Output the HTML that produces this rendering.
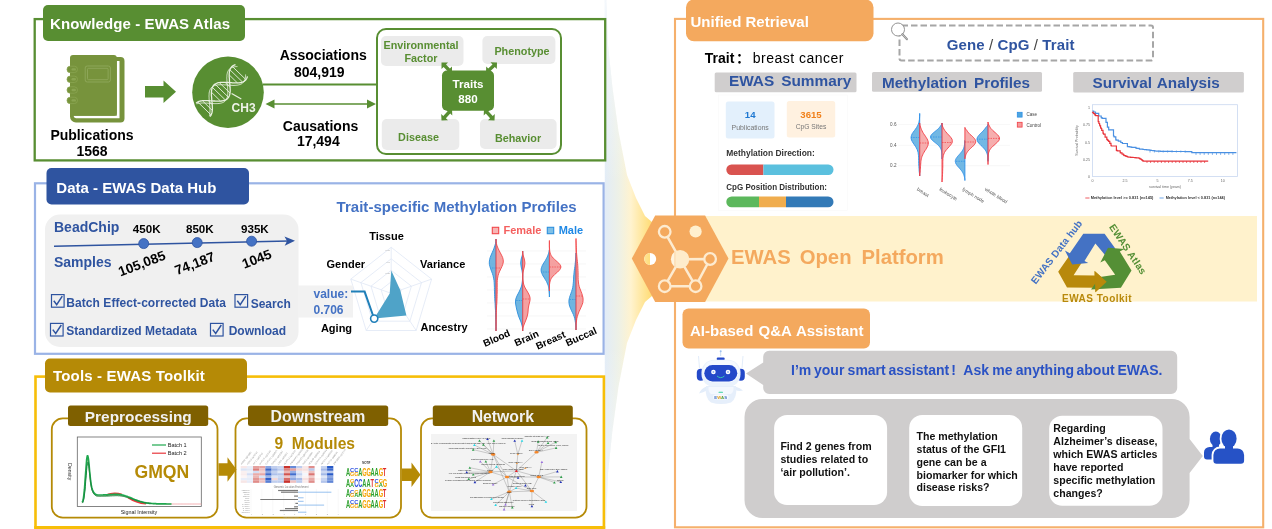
<!DOCTYPE html>
<html><head><meta charset="utf-8"><title>EWAS Open Platform</title>
<style>
html,body{margin:0;padding:0;background:#fff;}
body{width:1272px;height:529px;overflow:hidden;}
svg{display:block;will-change:transform;font-family:"Liberation Sans","Noto Sans CJK SC",sans-serif;}
.b{font-weight:bold;}
</style></head><body>
<svg width="1272" height="529" viewBox="0 0 1272 529">
<defs>
<linearGradient id="fun" x1="605" x2="652" y1="0" y2="0" gradientUnits="userSpaceOnUse">
<stop offset="0" stop-color="#e2ecf7"/><stop offset="0.3" stop-color="#eef1e6"/><stop offset="0.55" stop-color="#fff3cf"/><stop offset="1" stop-color="#ffdc73"/>
</linearGradient>
<linearGradient id="fade" x1="0" x2="0" y1="0" y2="529" gradientUnits="userSpaceOnUse">
<stop offset="0" stop-color="#fff" stop-opacity="0.6"/><stop offset="0.35" stop-color="#fff" stop-opacity="0"/><stop offset="0.65" stop-color="#fff" stop-opacity="0"/><stop offset="1" stop-color="#fff" stop-opacity="0.6"/>
</linearGradient>
</defs>

<path d="M604.8,-11 L605.8,-11 L608,45 L612.5,88 L618.5,131.39999999999998 L627,175 L636,198 L645,216 L652,222 L652,296 L645,302 L636,320 L627,343 L618.5,386.6 L612.5,430 L608,473 L605.8,529 L604.8,529 Z" fill="url(#fun)"/>
<path d="M604.8,-11 L605.8,-11 L608,45 L612.5,88 L618.5,131.39999999999998 L627,175 L636,198 L645,216 L652,222 L652,296 L645,302 L636,320 L627,343 L618.5,386.6 L612.5,430 L608,473 L605.8,529 L604.8,529 Z" fill="url(#fade)"/>
<rect x="34.7" y="19.1" width="570.5" height="141.3" fill="#fff" stroke="#588e32" stroke-width="2.3"/>
<rect x="35" y="183.3" width="568.6" height="170.5" fill="#fff" stroke="#9ab3e6" stroke-width="2.2"/>
<rect x="35.5" y="376.6" width="568.4" height="150.8" fill="#fff" stroke="#f7be08" stroke-width="2.6"/><rect x="34.2" y="526" width="571" height="3" fill="#f7be08"/>
<rect x="675" y="18.9" width="588.2" height="508.4" fill="#fff" stroke="#f5b06c" stroke-width="2.1"/>
<rect x="660" y="216" width="597" height="85.5" fill="#fff2cc"/>
<rect x="43" y="5" width="202" height="36" rx="5" fill="#588e32"/>
<text x="50" y="29" class="b" font-size="15" fill="#fff" textLength="180" lengthAdjust="spacing">Knowledge - EWAS Atlas</text>
<rect x="46.500" y="168" width="202.5" height="36.500" rx="5" fill="#2f54a0"/>
<text x="56.3" y="192.800" class="b" font-size="15" fill="#fff">Data - EWAS Data Hub</text>
<rect x="45" y="358.500" width="202" height="34" rx="5" fill="#b58a06"/>
<text x="53" y="381" class="b" font-size="15" fill="#fff" textLength="151.800" lengthAdjust="spacing">Tools - EWAS Toolkit</text>
<rect x="686" y="-0.500" width="187.500" height="41.800" rx="8" fill="#f4a95e"/>
<text x="690.500" y="26.500" class="b" font-size="15" fill="#fff">Unified Retrieval</text>
<rect x="682.500" y="308.500" width="187.500" height="40" rx="6" fill="#f4a95e"/>
<text x="690" y="335.500" class="b" font-size="15" fill="#fff" word-spacing="1">AI-based Q&amp;A Assistant</text>
<path d="M114,57 H120.500 a4,4 0 0 1 4,4 V118.500 a4,4 0 0 1 -4,4 H76 a6,6 0 0 1 -6,-6 V112 H114 Z" fill="#77933c"/>
<path d="M116.800,61 H119.500 V118.200 H76 a3,3 0 0 1 -2.500,-2.500 H116.800 Z" fill="#fff"/>
<rect x="70" y="55" width="46.800" height="60.700" rx="3" fill="#77933c"/>
<rect x="85.200" y="66" width="25.200" height="16" rx="2" fill="none" stroke="#93ab5f" stroke-width="0.8"/>
<rect x="87.500" y="68.300" width="20.600" height="11.400" rx="1" fill="none" stroke="#93ab5f" stroke-width="0.8"/>
<rect x="67" y="66.2" width="10.500" height="6.400" rx="3.200" fill="#77933c" stroke="#8aa551" stroke-width="0.8"/>
<rect x="71.500" y="68.2" width="4.500" height="2.400" rx="1.200" fill="#8aa551"/>
<rect x="67" y="76.1" width="10.500" height="6.400" rx="3.200" fill="#77933c" stroke="#8aa551" stroke-width="0.8"/>
<rect x="71.500" y="78.1" width="4.500" height="2.400" rx="1.200" fill="#8aa551"/>
<rect x="67" y="86.8" width="10.500" height="6.400" rx="3.200" fill="#77933c" stroke="#8aa551" stroke-width="0.8"/>
<rect x="71.500" y="88.8" width="4.500" height="2.400" rx="1.200" fill="#8aa551"/>
<rect x="67" y="97.2" width="10.500" height="6.400" rx="3.200" fill="#77933c" stroke="#8aa551" stroke-width="0.8"/>
<rect x="71.500" y="99.2" width="4.500" height="2.400" rx="1.200" fill="#8aa551"/>
<text x="92" y="139.700" class="b" font-size="14" text-anchor="middle">Publications</text>
<text x="92" y="155.800" class="b" font-size="14" text-anchor="middle">1568</text>
<path d="M145,86 H163.500 V80.500 L176,91.700 L163.500,103 V97.500 H145 Z" fill="#588e32"/>
<circle cx="228" cy="92.300" r="35.800" fill="#588e32"/>
<path d="M209.9,116.7 L210.3,116.2 L210.7,115.6 L211.1,115.0 L211.4,114.3 L211.7,113.6 L211.9,112.9 L212.1,112.1 L212.2,111.3 L212.3,110.4 L212.4,109.5 L212.4,108.6 L212.4,107.6 L212.3,106.6 L212.3,105.6 L212.2,104.6 L212.1,103.5 L212.1,102.5 L211.9,101.4 L211.8,100.3 L211.7,99.3 L211.7,98.2 L211.6,97.2 L211.5,96.1 L211.4,95.1 L211.4,94.1 L211.4,93.2 L211.4,92.2 L211.5,91.3 L211.6,90.5 L211.7,89.6 L211.9,88.8 L212.1,88.1 L212.4,87.4 L212.7,86.7 L213.1,86.1 L213.5,85.5 L213.9,85.0 L214.4,84.6 L215.0,84.1 L215.6,83.8 L216.3,83.4 L217.0,83.2 L217.7,82.9 L218.5,82.7 L219.3,82.6 L220.2,82.5 L221.1,82.4 L222.0,82.3 L223.0,82.3 L224.0,82.3 L225.0,82.3 L226.0,82.4 L227.1,82.4 L228.1,82.5 L229.2,82.6 L230.3,82.6 L231.3,82.7 L232.4,82.8 L233.4,82.8 L234.5,82.9 L235.5,82.9 L236.5,82.9 L237.4,82.9 L238.4,82.8 L239.3,82.8 L240.1,82.6 L240.9,82.5 L241.7,82.3 L242.5,82.0 L243.2,81.8 L243.8,81.4 L244.4,81.1 L245.0,80.6 L245.5,80.2 L245.9,79.6 L246.3,79.1 L246.7,78.5 L247.0,77.8 L247.3,77.1 L247.5,76.3" fill="none" stroke="#e9f0e0" stroke-width="1.300"/>
<path d="M196.1,103.3 L196.6,102.8 L197.2,102.4 L197.8,102.0 L198.4,101.7 L199.1,101.4 L199.9,101.2 L200.7,101.0 L201.5,100.8 L202.4,100.7 L203.3,100.6 L204.2,100.6 L205.2,100.6 L206.2,100.6 L207.2,100.6 L208.2,100.6 L209.3,100.7 L210.3,100.8 L211.4,100.8 L212.4,100.9 L213.5,101.0 L214.6,101.0 L215.6,101.1 L216.6,101.1 L217.7,101.2 L218.6,101.2 L219.6,101.2 L220.5,101.1 L221.4,101.0 L222.3,100.9 L223.1,100.7 L223.9,100.5 L224.7,100.3 L225.4,100.0 L226.0,99.7 L226.6,99.3 L227.2,98.9 L227.7,98.4 L228.1,97.9 L228.5,97.3 L228.9,96.7 L229.2,96.1 L229.5,95.4 L229.7,94.6 L229.9,93.8 L230.0,93.0 L230.1,92.1 L230.2,91.2 L230.2,90.3 L230.2,89.3 L230.1,88.3 L230.1,87.3 L230.0,86.3 L229.9,85.2 L229.8,84.2 L229.7,83.1 L229.6,82.1 L229.5,81.0 L229.4,79.9 L229.4,78.9 L229.3,77.9 L229.2,76.9 L229.2,75.9 L229.2,74.9 L229.2,74.0 L229.3,73.1 L229.4,72.2 L229.5,71.4 L229.7,70.6 L229.9,69.8 L230.2,69.1 L230.5,68.5 L230.9,67.8 L231.3,67.3 L231.7,66.8 L232.2,66.3 L232.8,65.9 L233.4,65.5 L234.1,65.2 L234.8,64.9 L235.5,64.7" fill="none" stroke="#e9f0e0" stroke-width="1.300"/>
<path d="M209.3,116.1 L209.5,115.4 L209.7,114.6 L209.8,113.8 L209.9,112.9 L210.0,112.0 L210.0,111.0 L210.0,110.1 L210.0,109.1 L209.9,108.1 L209.9,107.1 L209.8,106.0 L209.7,105.0 L209.6,103.9 L209.5,102.8 L209.4,101.8 L209.3,100.7 L209.2,99.7 L209.1,98.6 L209.1,97.6 L209.0,96.6 L209.0,95.7 L209.1,94.7 L209.1,93.8 L209.2,93.0 L209.3,92.1 L209.5,91.3 L209.7,90.6 L210.0,89.9 L210.3,89.2 L210.7,88.6 L211.1,88.0 L211.5,87.5 L212.0,87.0 L212.6,86.6 L213.2,86.2 L213.8,85.9 L214.5,85.6 L215.3,85.4 L216.1,85.2 L216.9,85.0 L217.8,84.9 L218.7,84.8 L219.6,84.8 L220.6,84.7 L221.5,84.7 L222.6,84.8 L223.6,84.8 L224.6,84.9 L225.7,84.9 L226.8,85.0 L227.8,85.1 L228.9,85.2 L229.9,85.2 L231.0,85.3 L232.0,85.3 L233.0,85.4 L234.0,85.4 L235.0,85.3 L235.9,85.3 L236.8,85.2 L237.7,85.1 L238.5,84.9 L239.3,84.7 L240.1,84.5 L240.8,84.2 L241.4,83.9 L242.0,83.5 L242.6,83.1 L243.1,82.6 L243.5,82.1 L243.9,81.6 L244.3,80.9 L244.6,80.3 L244.9,79.6 L245.1,78.8 L245.3,78.0 L245.4,77.2 L245.5,76.3 L245.6,75.4 L245.6,74.5" fill="none" stroke="#e9f0e0" stroke-width="0.900"/>
<path d="M196.7,103.9 L197.5,103.6 L198.2,103.4 L199.1,103.3 L199.9,103.2 L200.8,103.1 L201.8,103.0 L202.7,103.0 L203.7,103.0 L204.7,103.0 L205.8,103.1 L206.8,103.1 L207.9,103.2 L208.9,103.3 L210.0,103.3 L211.1,103.4 L212.1,103.5 L213.2,103.5 L214.2,103.6 L215.2,103.6 L216.2,103.6 L217.2,103.6 L218.1,103.5 L219.0,103.5 L219.9,103.3 L220.7,103.2 L221.5,103.0 L222.2,102.8 L222.9,102.5 L223.6,102.2 L224.2,101.8 L224.8,101.4 L225.3,100.9 L225.7,100.4 L226.1,99.8 L226.5,99.2 L226.8,98.6 L227.1,97.8 L227.3,97.1 L227.5,96.3 L227.6,95.5 L227.7,94.6 L227.8,93.7 L227.8,92.8 L227.8,91.8 L227.8,90.8 L227.7,89.8 L227.7,88.8 L227.6,87.7 L227.5,86.7 L227.4,85.6 L227.3,84.6 L227.2,83.5 L227.1,82.4 L227.0,81.4 L226.9,80.4 L226.9,79.3 L226.8,78.4 L226.8,77.4 L226.9,76.5 L226.9,75.5 L227.0,74.7 L227.2,73.8 L227.3,73.1 L227.5,72.3 L227.8,71.6 L228.1,70.9 L228.5,70.3 L228.9,69.7 L229.3,69.2 L229.8,68.8 L230.4,68.3 L231.0,68.0 L231.6,67.6 L232.3,67.4 L233.1,67.1 L233.9,66.9 L234.7,66.8 L235.6,66.6 L236.5,66.6 L237.4,66.5" fill="none" stroke="#e9f0e0" stroke-width="0.900"/>
<path d="M211.1,115.0 L197.8,102.0 M212.3,110.4 L202.4,100.7 M212.2,104.6 L208.2,100.6 M211.4,92.2 L220.5,101.1 M212.4,87.4 L225.4,100.0 M215.0,84.1 L228.5,97.3 M219.3,82.6 L230.0,93.0 M225.0,82.3 L230.1,87.3 M237.4,82.9 L229.2,74.9 M242.5,82.0 L229.9,69.8 M245.9,79.6 L232.2,66.3" stroke="#e9f0e0" stroke-width="0.900" fill="none"/>
<path d="M231.600,93.400 L241.300,99" stroke="#e9f0e0" stroke-width="1.200"/>
<text x="231.600" y="111.600" class="b" font-size="12" fill="#eef3e8">CH3</text>
<text x="323.200" y="60.200" class="b" font-size="14" text-anchor="middle">Associations</text>
<text x="319.300" y="77" class="b" font-size="14" text-anchor="middle">804,919</text>
<text x="320.500" y="130.600" class="b" font-size="14" text-anchor="middle">Causations</text>
<text x="318.300" y="146.200" class="b" font-size="14" text-anchor="middle">17,494</text>
<path d="M263,84.500 H376" stroke="#588e32" stroke-width="2"/>
<path d="M271,104 H369" stroke="#588e32" stroke-width="1.600"/>
<path d="M265.500,104 L274.500,99.500 V108.500 Z M376,104 L367,99.500 V108.500 Z" fill="#588e32"/>
<rect x="377" y="29" width="184" height="125" rx="9" fill="#fff" stroke="#588e32" stroke-width="2"/>
<rect x="381" y="36" width="82.500" height="30" rx="5" fill="#ebebeb"/>
<rect x="482.400" y="36" width="73" height="28" rx="5" fill="#ebebeb"/>
<rect x="381.800" y="119" width="77.500" height="31" rx="5" fill="#ebebeb"/>
<rect x="480" y="119" width="76.600" height="30" rx="5" fill="#ebebeb"/>
<path d="M441.5,62.5 L441.5,69.0 L443.6,67.0 L447.5,70.9 L445.5,73.0 L452.0,73.0 L452.0,66.5 L449.9,68.5 L446.0,64.6 L448.0,62.5 Z M497.0,62.5 L490.5,62.3 L492.5,64.4 L488.2,68.6 L486.2,66.5 L486.0,73.0 L492.5,73.2 L490.5,71.1 L494.8,66.9 L496.8,69.0 Z M441.5,120.5 L448.0,120.2 L445.9,118.2 L450.2,113.5 L452.3,115.5 L452.0,109.0 L445.5,109.3 L447.6,111.3 L443.3,116.0 L441.2,114.0 Z M494.5,120.5 L494.8,114.0 L492.7,116.0 L488.4,111.3 L490.5,109.3 L484.0,109.0 L483.7,115.5 L485.8,113.5 L490.1,118.2 L488.0,120.2 Z" fill="#588e32"/>
<rect x="442" y="70.500" width="52" height="40.200" rx="5" fill="#588e32"/>
<text x="468" y="88" class="b" font-size="11.600" fill="#fff" text-anchor="middle">Traits</text>
<text x="468" y="102.500" class="b" font-size="11.600" fill="#fff" text-anchor="middle">880</text>
<text x="421" y="48.900" class="b" font-size="10.800" fill="#588e32" text-anchor="middle">Environmental</text>
<text x="421" y="61.800" class="b" font-size="10.800" fill="#588e32" text-anchor="middle">Factor</text>
<text x="522" y="54.900" class="b" font-size="10.800" fill="#588e32" text-anchor="middle">Phenotype</text>
<text x="418.500" y="141" class="b" font-size="10.800" fill="#588e32" text-anchor="middle">Disease</text>
<text x="518" y="141.800" class="b" font-size="10.800" fill="#588e32" text-anchor="middle">Behavior</text>
<rect x="45" y="214.500" width="253.500" height="132.500" rx="15" fill="#f0f0f0"/>
<text x="54" y="231.700" class="b" font-size="14" fill="#2f54a0">BeadChip</text>
<text x="54" y="267" class="b" font-size="14" fill="#2f54a0">Samples</text>
<path d="M54,246.200 L289,241" stroke="#2f54a0" stroke-width="1.400"/>
<path d="M295,240.800 L284.500,236.500 L287,241 L284.700,245.700 Z" fill="#2f54a0"/>
<circle cx="143.7" cy="243.6" r="5" fill="#4472c4" stroke="#2f54a0" stroke-width="0.800"/>
<circle cx="197.2" cy="242.6" r="5" fill="#4472c4" stroke="#2f54a0" stroke-width="0.800"/>
<circle cx="251.6" cy="241.2" r="5" fill="#4472c4" stroke="#2f54a0" stroke-width="0.800"/>
<text x="146.7" y="232.600" class="b" font-size="11.600" text-anchor="middle">450K</text>
<text x="199.8" y="232.600" class="b" font-size="11.600" text-anchor="middle">850K</text>
<text x="254.9" y="232.600" class="b" font-size="11.600" text-anchor="middle">935K</text>
<text transform="translate(141.9,263.5) rotate(-21)" x="0" y="4.600" class="b" font-size="13.600" text-anchor="middle">105,085</text>
<text transform="translate(194.8,263.5) rotate(-21)" x="0" y="4.600" class="b" font-size="13.600" text-anchor="middle">74,187</text>
<text transform="translate(256.8,259) rotate(-21)" x="0" y="4.600" class="b" font-size="13.600" text-anchor="middle">1045</text>
<rect x="51.5" y="294.6" width="12.6" height="12.6" fill="none" stroke="#2f54a0" stroke-width="1.200"/>
<path d="M53.8,300.8 L56.7,304.6 L62.3,296.20000000000005" fill="none" stroke="#2f54a0" stroke-width="1.500"/>
<rect x="235" y="294.6" width="12.6" height="12.6" fill="none" stroke="#2f54a0" stroke-width="1.200"/>
<path d="M237.3,300.8 L240.2,304.6 L245.8,296.20000000000005" fill="none" stroke="#2f54a0" stroke-width="1.500"/>
<rect x="50.5" y="323.4" width="12.6" height="12.6" fill="none" stroke="#2f54a0" stroke-width="1.200"/>
<path d="M52.8,329.59999999999997 L55.7,333.4 L61.3,325.0" fill="none" stroke="#2f54a0" stroke-width="1.500"/>
<rect x="210.5" y="323.4" width="12.6" height="12.6" fill="none" stroke="#2f54a0" stroke-width="1.200"/>
<path d="M212.8,329.59999999999997 L215.7,333.4 L221.3,325.0" fill="none" stroke="#2f54a0" stroke-width="1.500"/>
<text x="66.300" y="306.700" class="b" font-size="12" fill="#2f54a0" textLength="159.700" lengthAdjust="spacing">Batch Effect-corrected Data</text>
<text x="250.700" y="308" class="b" font-size="12" fill="#2f54a0">Search</text>
<text x="66.300" y="335.200" class="b" font-size="12" fill="#2f54a0" textLength="130.700" lengthAdjust="spacing">Standardized Metadata</text>
<text x="228.700" y="335.200" class="b" font-size="12" fill="#2f54a0">Download</text>
<text x="336.600" y="212" class="b" font-size="15" fill="#4472c4" textLength="240" lengthAdjust="spacing">Trait-specific Methylation Profiles</text>
<polygon points="391.2,247.3 431.6,279.1 416.2,330.5 366.2,330.5 350.8,279.1" fill="none" stroke="#dfe7f5" stroke-width="0.800"/>
<polygon points="391.2,258.8 421.5,282.6 409.9,321.2 372.5,321.2 360.9,282.6" fill="none" stroke="#dfe7f5" stroke-width="0.800"/>
<polygon points="391.2,270.3 411.4,286.2 403.7,311.9 378.7,311.9 371.0,286.2" fill="none" stroke="#dfe7f5" stroke-width="0.800"/>
<polygon points="391.2,281.8 401.3,289.7 397.4,302.6 385.0,302.6 381.1,289.7" fill="none" stroke="#dfe7f5" stroke-width="0.800"/>
<path d="M391.2,293.3 L391.2,247.3" stroke="#dfe7f5" stroke-width="0.800"/>
<path d="M391.2,293.3 L431.6,279.1" stroke="#dfe7f5" stroke-width="0.800"/>
<path d="M391.2,293.3 L416.2,330.5" stroke="#dfe7f5" stroke-width="0.800"/>
<path d="M391.2,293.3 L366.2,330.5" stroke="#dfe7f5" stroke-width="0.800"/>
<path d="M391.2,293.3 L350.8,279.1" stroke="#dfe7f5" stroke-width="0.800"/>
<polygon points="391.300,270.400 400.300,290.300 406.400,315.400 374.200,318.600 389.700,293.500" fill="#4fa3c8"/>
<rect x="298" y="285.500" width="55" height="32" fill="#f2f2f2"/>
<path d="M351,291.600 H364.600 L373.200,316" fill="none" stroke="#1f7fb8" stroke-width="2"/>
<circle cx="374.200" cy="318.600" r="3.600" fill="#fff" stroke="#1f7fb8" stroke-width="1.600"/>
<text x="313.500" y="298.400" class="b" font-size="12" fill="#4472c4">value:</text>
<text x="313.500" y="314.400" class="b" font-size="12" fill="#4472c4">0.706</text>
<text x="386.5" y="239.8" class="b" font-size="11" text-anchor="middle">Tissue</text>
<text x="345.8" y="267.8" class="b" font-size="11" text-anchor="middle">Gender</text>
<text x="442.7" y="267.8" class="b" font-size="11" text-anchor="middle">Variance</text>
<text x="336.5" y="331.5" class="b" font-size="11" text-anchor="middle">Aging</text>
<text x="444" y="330.5" class="b" font-size="11" text-anchor="middle">Ancestry</text>
<text x="390" y="251" font-size="2.500" fill="#aaa" text-anchor="end">0.75</text>
<text x="390" y="262.5" font-size="2.500" fill="#aaa" text-anchor="end">0.5</text>
<text x="390" y="274" font-size="2.500" fill="#aaa" text-anchor="end">0.25</text>
<path d="M487,251 H586" stroke="#f0f0f0" stroke-width="0.600"/>
<path d="M487,264 H586" stroke="#f0f0f0" stroke-width="0.600"/>
<path d="M487,277 H586" stroke="#f0f0f0" stroke-width="0.600"/>
<path d="M487,290 H586" stroke="#f0f0f0" stroke-width="0.600"/>
<path d="M487,303 H586" stroke="#f0f0f0" stroke-width="0.600"/>
<path d="M487,316 H586" stroke="#f0f0f0" stroke-width="0.600"/>
<path d="M487,329 H586" stroke="#f0f0f0" stroke-width="0.600"/>
<path d="M496.0,239.0 L496.0,239.0 L495.9,241.3 L495.5,243.6 L494.8,245.9 L494.0,248.2 L493.1,250.5 L492.1,252.8 L491.1,255.1 L490.2,257.4 L489.6,259.7 L489.3,262.0 L489.4,264.3 L489.9,266.6 L490.7,268.9 L491.5,271.2 L492.4,273.5 L493.1,275.8 L493.6,278.1 L494.0,280.4 L494.2,282.7 L494.3,285.0 L494.4,287.3 L494.4,289.6 L494.5,291.9 L494.6,294.2 L494.6,296.5 L494.8,298.8 L494.9,301.1 L495.1,303.4 L495.2,305.7 L495.3,308.0 L495.5,310.3 L495.6,312.6 L495.7,314.9 L495.8,317.2 L495.8,319.5 L495.9,321.8 L495.9,324.1 L496.0,326.4 L496.0,328.7 L496.0,331.0 L496.0,331.0 Z" fill="#4ba3d8" fill-opacity="0.8" stroke="#2d8fdd" stroke-width="0.9" stroke-linejoin="round"/>
<path d="M496,268 H490.7" stroke="#2d8fdd" stroke-width="0.700" stroke-dasharray="1.500,1" fill="none"/>
<path d="M496.0,239.0 L496.0,239.0 L496.1,241.3 L496.4,243.6 L497.1,245.9 L498.0,248.2 L499.1,250.5 L500.3,252.8 L501.5,255.1 L502.6,257.4 L503.2,259.7 L503.3,262.0 L502.8,264.3 L501.9,266.6 L500.8,268.9 L499.7,271.2 L498.7,273.5 L498.0,275.8 L497.6,278.1 L497.3,280.4 L497.2,282.7 L497.2,285.0 L497.2,287.3 L497.2,289.6 L497.2,291.9 L497.1,294.2 L497.1,296.5 L497.0,298.8 L496.9,301.1 L496.8,303.4 L496.6,305.7 L496.5,308.0 L496.4,310.3 L496.3,312.6 L496.2,314.9 L496.2,317.2 L496.1,319.5 L496.1,321.8 L496.1,324.1 L496.0,326.4 L496.0,328.7 L496.0,331.0 L496.0,331.0 Z" fill="#f28a8a" fill-opacity="0.8" stroke="#f2474a" stroke-width="0.9" stroke-linejoin="round"/>
<path d="M496,268 H500.8" stroke="#f2474a" stroke-width="0.700" stroke-dasharray="1.500,1" fill="none"/>
<path d="M522.7,251.0 L522.7,251.0 L522.6,253.0 L522.4,255.0 L521.8,257.0 L521.2,259.0 L520.9,261.0 L520.7,263.0 L520.9,265.0 L521.2,267.0 L521.7,269.0 L522.1,271.0 L522.4,273.0 L522.6,275.0 L522.6,277.0 L522.5,279.0 L522.4,281.0 L522.1,283.0 L521.8,285.0 L521.2,287.0 L520.4,289.0 L519.5,291.0 L518.5,293.0 L517.4,295.0 L516.5,297.0 L515.8,299.0 L515.5,301.0 L515.5,303.0 L515.8,305.0 L516.2,307.0 L516.6,309.0 L517.1,311.0 L517.6,313.0 L518.2,315.0 L518.9,317.0 L519.7,319.0 L520.6,321.0 L521.3,323.0 L521.9,325.0 L522.4,327.0 L522.6,329.0 L522.7,331.0 L522.7,331.0 Z" fill="#4ba3d8" fill-opacity="0.8" stroke="#2d8fdd" stroke-width="0.9" stroke-linejoin="round"/>
<path d="M522.7,300.5 H515.5" stroke="#2d8fdd" stroke-width="0.700" stroke-dasharray="1.500,1" fill="none"/>
<path d="M522.7,251.0 L522.7,251.0 L522.8,253.0 L523.1,255.0 L523.7,257.0 L524.3,259.0 L524.7,261.0 L524.9,263.0 L524.7,265.0 L524.3,267.0 L523.8,269.0 L523.3,271.0 L523.0,273.0 L522.9,275.0 L522.8,277.0 L522.9,279.0 L523.1,281.0 L523.4,283.0 L523.9,285.0 L524.7,287.0 L525.8,289.0 L527.0,291.0 L528.2,293.0 L529.2,295.0 L529.9,297.0 L530.1,299.0 L529.9,301.0 L529.4,303.0 L528.9,305.0 L528.5,307.0 L528.2,309.0 L528.1,311.0 L527.9,313.0 L527.5,315.0 L527.0,317.0 L526.3,319.0 L525.5,321.0 L524.7,323.0 L523.9,325.0 L523.2,327.0 L522.8,329.0 L522.7,331.0 L522.7,331.0 Z" fill="#f28a8a" fill-opacity="0.8" stroke="#f2474a" stroke-width="0.9" stroke-linejoin="round"/>
<path d="M522.7,299 H530.1" stroke="#f2474a" stroke-width="0.700" stroke-dasharray="1.500,1" fill="none"/>
<path d="M549.4,250.0 L549.4,250.0 L549.2,251.2 L548.9,252.3 L548.5,253.5 L548.1,254.7 L547.7,255.9 L547.2,257.1 L546.6,258.2 L545.9,259.4 L545.3,260.6 L544.5,261.8 L543.8,262.9 L543.1,264.1 L542.4,265.3 L541.9,266.4 L541.5,267.6 L541.2,268.8 L541.1,270.0 L541.2,271.1 L541.4,272.3 L541.9,273.5 L542.4,274.7 L543.0,275.9 L543.8,277.0 L544.5,278.2 L545.2,279.4 L545.9,280.6 L546.6,281.7 L547.1,282.9 L547.6,284.1 L548.1,285.2 L548.4,286.4 L548.7,287.6 L548.9,288.8 L549.0,289.9 L549.1,291.1 L549.2,292.3 L549.3,293.5 L549.4,294.6 L549.4,295.8 L549.4,297.0 L549.4,297.0 Z" fill="#4ba3d8" fill-opacity="0.8" stroke="#2d8fdd" stroke-width="0.9" stroke-linejoin="round"/>
<path d="M549.4,272 H541.4" stroke="#2d8fdd" stroke-width="0.700" stroke-dasharray="1.500,1" fill="none"/>
<path d="M549.4,240.5 L549.4,240.5 L549.4,241.8 L549.4,243.0 L549.4,244.3 L549.4,245.6 L549.4,246.8 L549.5,248.1 L549.6,249.3 L549.7,250.6 L549.9,251.9 L550.2,253.1 L550.7,254.4 L551.3,255.7 L552.2,256.9 L553.3,258.2 L554.6,259.4 L556.0,260.7 L557.5,262.0 L558.8,263.2 L559.9,264.5 L560.7,265.8 L560.9,267.0 L560.6,268.3 L559.9,269.5 L558.8,270.8 L557.5,272.1 L556.0,273.3 L554.6,274.6 L553.3,275.9 L552.2,277.1 L551.3,278.4 L550.7,279.6 L550.2,280.9 L549.9,282.2 L549.7,283.4 L549.5,284.7 L549.5,285.9 L549.4,287.2 L549.4,288.5 L549.4,289.7 L549.4,291.0 L549.4,291.0 Z" fill="#f28a8a" fill-opacity="0.8" stroke="#f2474a" stroke-width="0.9" stroke-linejoin="round"/>
<path d="M549.4,267 H560.9" stroke="#f2474a" stroke-width="0.700" stroke-dasharray="1.500,1" fill="none"/>
<path d="M576.0,253.0 L576.0,253.0 L576.0,254.9 L575.9,256.9 L575.7,258.8 L575.5,260.7 L575.3,262.6 L575.1,264.6 L574.9,266.5 L574.6,268.4 L574.3,270.3 L574.1,272.2 L573.9,274.2 L573.7,276.1 L573.6,278.0 L573.5,279.9 L573.4,281.9 L573.2,283.8 L573.0,285.7 L572.7,287.6 L572.2,289.6 L571.6,291.5 L570.9,293.4 L570.2,295.4 L569.6,297.3 L569.1,299.2 L568.9,301.1 L569.0,303.1 L569.3,305.0 L569.9,306.9 L570.7,308.8 L571.6,310.8 L572.5,312.7 L573.4,314.6 L574.1,316.5 L574.7,318.4 L575.1,320.4 L575.4,322.3 L575.7,324.2 L575.9,326.1 L576.0,328.1 L576.0,330.0 L576.0,330.0 Z" fill="#4ba3d8" fill-opacity="0.8" stroke="#2d8fdd" stroke-width="0.9" stroke-linejoin="round"/>
<path d="M576,299.5 H569.1" stroke="#2d8fdd" stroke-width="0.700" stroke-dasharray="1.500,1" fill="none"/>
<path d="M576.0,238.5 L576.0,238.5 L576.0,240.8 L576.1,243.1 L576.2,245.4 L576.3,247.7 L576.4,249.9 L576.5,252.2 L576.7,254.5 L576.9,256.8 L577.1,259.1 L577.4,261.4 L577.6,263.7 L577.8,265.9 L577.9,268.2 L578.0,270.5 L578.1,272.8 L578.1,275.1 L578.1,277.4 L578.2,279.7 L578.4,282.0 L578.7,284.2 L579.2,286.5 L580.0,288.8 L580.9,291.1 L581.8,293.4 L582.5,295.7 L583.0,298.0 L583.1,300.3 L582.8,302.6 L582.1,304.8 L581.1,307.1 L580.1,309.4 L579.0,311.7 L578.1,314.0 L577.4,316.3 L576.8,318.6 L576.5,320.9 L576.2,323.1 L576.1,325.4 L576.0,327.7 L576.0,330.0 L576.0,330.0 Z" fill="#f28a8a" fill-opacity="0.8" stroke="#f2474a" stroke-width="0.9" stroke-linejoin="round"/>
<path d="M576,296 H582.5" stroke="#f2474a" stroke-width="0.700" stroke-dasharray="1.500,1" fill="none"/>
<rect x="492.300" y="227.300" width="6.400" height="6.400" fill="#f7b5b5" stroke="#f2474a" stroke-width="1.100"/>
<text x="503.500" y="234" class="b" font-size="11" fill="#f4605f">Female</text>
<rect x="547.300" y="227.300" width="6.400" height="6.400" fill="#7fc0e6" stroke="#2d8fdd" stroke-width="1.100"/>
<text x="558.700" y="234" class="b" font-size="11" fill="#1e88e5">Male</text>
<text transform="translate(496.5,338) rotate(-24)" x="0" y="3.600" class="b" font-size="10" text-anchor="middle">Blood</text>
<text transform="translate(526.5,338) rotate(-24)" x="0" y="3.600" class="b" font-size="10" text-anchor="middle">Brain</text>
<text transform="translate(550.5,340) rotate(-24)" x="0" y="3.600" class="b" font-size="10" text-anchor="middle">Breast</text>
<text transform="translate(581,336.5) rotate(-24)" x="0" y="3.600" class="b" font-size="10" text-anchor="middle">Buccal</text>
<rect x="51.8" y="418.300" width="165.7" height="99.300" rx="11" fill="#fff" stroke="#b58a06" stroke-width="1.800"/>
<rect x="68" y="405.500" width="140.2" height="20.500" rx="2.500" fill="#7f6000"/>
<text x="138.3" y="422.300" class="b" font-size="15.4" fill="#f2f2f2" text-anchor="middle">Preprocessing</text>
<rect x="235.5" y="418.300" width="165.5" height="99.300" rx="11" fill="#fff" stroke="#b58a06" stroke-width="1.800"/>
<rect x="248" y="405.500" width="140.2" height="20.500" rx="2.500" fill="#7f6000"/>
<text x="318" y="422.300" class="b" font-size="15.8" fill="#f2f2f2" text-anchor="middle">Downstream</text>
<rect x="421" y="418.300" width="165.5" height="99.300" rx="11" fill="#fff" stroke="#b58a06" stroke-width="1.800"/>
<rect x="432.8" y="405.500" width="140" height="20.500" rx="2.500" fill="#7f6000"/>
<text x="502.8" y="422.300" class="b" font-size="15.8" fill="#f2f2f2" text-anchor="middle">Network</text>
<path d="M218.5,463.3 H227.5 V457.3 L236.5,469.5 L227.5,481.7 V475.7 H218.5 Z M402,468.5 H411.5 V462.5 L420.5,474.7 L411.5,486.9 V480.9 H402 Z" fill="#b58a06"/>
<rect x="77.300" y="437" width="124" height="69.500" fill="#fff" stroke="#666" stroke-width="0.800"/>
<path d="M82.3,502.5 L83.0,500.7 L83.7,497.0 L84.5,490.7 L85.2,481.9 L86.0,472.1 L86.7,464.0 L87.5,460.3 L88.2,462.2 L89.0,468.1 L89.7,475.4 L90.4,482.0 L91.2,486.7 L91.9,489.8 L92.7,491.8 L93.4,493.2 L94.2,494.2 L94.9,494.9 L95.7,495.4 L96.4,495.6 L97.1,495.8 L97.9,495.9 L98.6,495.9 L99.4,495.9 L100.1,495.9 L100.9,495.9 L101.6,495.9 L102.3,495.9 L103.1,495.9 L103.8,495.8 L104.6,495.8 L105.3,495.8 L106.1,495.8 L106.8,495.7 L107.6,495.7 L108.3,495.7 L109.0,495.6 L109.8,495.6 L110.5,495.5 L111.3,495.5 L112.0,495.5 L112.8,495.4 L113.5,495.4 L114.3,495.4 L115.0,495.3 L115.7,495.3 L116.5,495.3 L117.2,495.3 L118.0,495.4 L118.7,495.4 L119.5,495.5 L120.2,495.6 L120.9,495.7 L121.7,495.8 L122.4,495.9 L123.2,496.1 L123.9,496.3 L124.7,496.5 L125.4,496.7 L126.2,496.9 L126.9,497.1 L127.6,497.4 L128.4,497.6 L129.1,497.9 L129.9,498.1 L130.6,498.4 L131.4,498.7 L132.1,499.0 L132.9,499.3 L133.6,499.5 L134.3,499.8 L135.1,500.1 L135.8,500.3 L136.6,500.6 L137.3,500.8 L138.1,501.1 L138.8,501.3 L139.5,501.5 L140.3,501.7 L141.0,501.9 L141.8,502.1 L142.5,502.3 L143.3,502.4 L144.0,502.6 L144.8,502.7 L145.5,502.8 L146.2,503.0 L147.0,503.1 L147.7,503.2 L148.5,503.2 L149.2,503.3 L150.0,503.4 L150.7,503.5 L151.5,503.5 L152.2,503.6 L152.9,503.6 L153.7,503.7 L154.4,503.7 L155.2,503.7 L155.9,503.8 L156.7,503.8 L157.4,503.8 L158.1,503.8 L158.9,503.8 L159.6,503.9 L160.4,503.9 L161.1,503.9 L161.9,503.9 L162.6,503.9 L163.4,503.9 L164.1,503.9 L164.8,503.9 L165.6,503.9 L166.3,504.0 L167.1,504.0 L167.8,504.0 L168.6,504.0 L169.3,504.0 L170.1,504.0 L170.8,504.0 L171.5,504.0 L172.3,504.0 L173.0,504.0 L173.8,504.0 L174.5,504.0 L175.3,504.0 L176.0,504.0 L176.7,504.0 L177.5,504.0 L178.2,504.0 L179.0,504.0 L179.7,504.0 L180.5,504.0 L181.2,504.0 L182.0,504.0 L182.7,504.0 L183.4,504.0 L184.2,504.0 L184.9,504.0 L185.7,504.0 L186.4,504.0 L187.2,504.0 L187.9,504.0 L188.7,504.0 L189.4,504.0 L190.1,504.0 L190.9,504.0 L191.6,504.0 L192.4,504.0 L193.1,504.0 L193.9,504.0 L194.6,504.0 L195.3,504.0 L196.1,504.0 L196.8,504.0 L197.6,504.0 L198.3,504.0 L199.1,504.0 L199.8,504.0 L200.6,504.0 L201.3,504.0" fill="none" stroke="#f3a9ab" stroke-width="1"/>
<path d="M106,495 Q114,492 122,494.500 M128,497.500 Q136,502.800 146,503.800" fill="none" stroke="#e8383d" stroke-width="1.600"/>
<path d="M82.3,502.4 L82.8,501.0 L83.4,498.6 L83.9,494.7 L84.5,489.2 L85.0,482.1 L85.6,473.9 L86.2,465.9 L86.7,459.5 L87.3,455.9 L87.8,455.8 L88.4,458.8 L89.0,464.1 L89.5,470.2 L90.1,476.1 L90.6,481.0 L91.2,484.8 L91.7,487.5 L92.3,489.5 L92.9,490.9 L93.4,492.0 L94.0,492.9 L94.5,493.5 L95.1,494.0 L95.7,494.4 L96.2,494.6 L96.8,494.8 L97.3,494.9 L97.9,495.0 L98.4,495.0 L99.0,495.0 L99.6,495.0 L100.1,495.0 L100.7,495.0 L101.2,495.0 L101.8,495.0 L102.3,495.0 L102.9,495.0 L103.5,494.9 L104.0,494.9 L104.6,494.9 L105.1,494.9 L105.7,494.9 L106.3,494.8 L106.8,494.8 L107.4,494.8 L107.9,494.8 L108.5,494.7 L109.0,494.7 L109.6,494.7 L110.2,494.6 L110.7,494.6 L111.3,494.6 L111.8,494.5 L112.4,494.5 L112.9,494.5 L113.5,494.4 L114.1,494.4 L114.6,494.4 L115.2,494.4 L115.7,494.4 L116.3,494.4 L116.9,494.4 L117.4,494.4 L118.0,494.4 L118.5,494.5 L119.1,494.5 L119.6,494.6 L120.2,494.6 L120.8,494.7 L121.3,494.8 L121.9,494.9 L122.4,495.0 L123.0,495.2 L123.6,495.3 L124.1,495.5 L124.7,495.6 L125.2,495.8 L125.8,496.0 L126.3,496.2 L126.9,496.4 L127.5,496.6 L128.0,496.8 L128.6,497.0 L129.1,497.2 L129.7,497.4 L130.2,497.6 L130.8,497.9 L131.4,498.1 L131.9,498.3 L132.5,498.6 L133.0,498.8 L133.6,499.0 L134.2,499.3 L134.7,499.5 L135.3,499.7 L135.8,499.9 L136.4,500.1 L136.9,500.4 L137.5,500.6 L138.1,500.8 L138.6,501.0 L139.2,501.1 L139.7,501.3 L140.3,501.5 L140.8,501.6 L141.4,501.8 L142.0,502.0 L142.5,502.1 L143.1,502.2 L143.6,502.4 L144.2,502.5 L144.8,502.6 L145.3,502.7 L145.9,502.8 L146.4,502.9 L147.0,503.0 L147.5,503.0 L148.1,503.1 L148.7,503.2 L149.2,503.3 L149.8,503.3 L150.3,503.4 L150.9,503.4 L151.5,503.5 L152.0,503.5 L152.6,503.5 L153.1,503.6 L153.7,503.6 L154.2,503.7 L154.8,503.7 L155.4,503.7 L155.9,503.7 L156.5,503.8 L157.0,503.8 L157.6,503.8 L158.1,503.8 L158.7,503.8 L159.3,503.8 L159.8,503.9 L160.4,503.9 L160.9,503.9 L161.5,503.9 L162.1,503.9 L162.6,503.9 L163.2,503.9 L163.7,503.9 L164.3,503.9 L164.8,503.9 L165.4,503.9 L166.0,503.9 L166.5,504.0 L167.1,504.0 L167.6,504.0 L168.2,504.0 L168.8,504.0 L169.3,504.0 L169.9,504.0 L170.4,504.0 L171.0,504.0 L171.5,504.0" fill="none" stroke="#1fa84f" stroke-width="1.700" stroke-linejoin="round"/>
<path d="M82.3,503.1 L82.7,502.5 L83.1,501.6 L83.6,500.1 L84.0,498.0 L84.4,495.1 L84.9,491.3 L85.3,486.6 L85.7,481.3 L86.2,475.8 L86.6,470.6 L87.0,466.3 L87.5,463.4 L87.9,462.2 L88.3,462.9 L88.8,465.1 L89.2,468.5 L89.6,472.6 L90.1,476.7 L90.5,480.5 L90.9,483.8 L91.4,486.5 L91.8,488.6 L92.2,490.3 L92.7,491.5 L93.1,492.5 L93.5,493.3 L94.0,494.0 L94.4,494.5 L94.8,495.0 L95.3,495.3 L95.7,495.6 L96.1,495.8 L96.6,496.0 L97.0,496.1 L97.4,496.1 L97.9,496.2 L98.3,496.2 L98.8,496.2 L99.2,496.2 L99.6,496.3 L100.1,496.3 L100.5,496.3 L100.9,496.3 L101.4,496.2 L101.8,496.2 L102.2,496.2 L102.7,496.2 L103.1,496.2 L103.5,496.2 L104.0,496.2 L104.4,496.2 L104.8,496.2 L105.3,496.2 L105.7,496.2 L106.1,496.1 L106.6,496.1 L107.0,496.1 L107.4,496.1 L107.9,496.1 L108.3,496.1 L108.7,496.0 L109.2,496.0 L109.6,496.0 L110.0,496.0 L110.5,495.9 L110.9,495.9 L111.3,495.9 L111.8,495.9 L112.2,495.8 L112.6,495.8 L113.1,495.8 L113.5,495.8 L113.9,495.8 L114.4,495.8 L114.8,495.7 L115.2,495.7 L115.7,495.7 L116.1,495.7 L116.5,495.7 L117.0,495.7 L117.4,495.7 L117.8,495.7 L118.3,495.8 L118.7,495.8 L119.1,495.8 L119.6,495.8 L120.0,495.9 L120.5,495.9 L120.9,496.0 L121.3,496.0 L121.8,496.1 L122.2,496.2 L122.6,496.3 L123.1,496.3 L123.5,496.4 L123.9,496.5 L124.4,496.6 L124.8,496.7 L125.2,496.8 L125.7,497.0 L126.1,497.1 L126.5,497.2 L127.0,497.3 L127.4,497.5 L127.8,497.6 L128.3,497.7 L128.7,497.9 L129.1,498.0 L129.6,498.2 L130.0,498.3 L130.4,498.5 L130.9,498.6 L131.3,498.8 L131.7,498.9 L132.2,499.1 L132.6,499.2 L133.0,499.4 L133.5,499.6 L133.9,499.7 L134.3,499.9 L134.8,500.0 L135.2,500.2 L135.6,500.3 L136.1,500.5 L136.5,500.6 L136.9,500.7 L137.4,500.9 L137.8,501.0 L138.2,501.2 L138.7,501.3 L139.1,501.4 L139.5,501.5 L140.0,501.7 L140.4,501.8 L140.8,501.9 L141.3,502.0 L141.7,502.1 L142.2,502.2 L142.6,502.3 L143.0,502.4 L143.5,502.5 L143.9,502.6 L144.3,502.6 L144.8,502.7 L145.2,502.8 L145.6,502.9 L146.1,502.9 L146.5,503.0 L146.9,503.1 L147.4,503.1 L147.8,503.2 L148.2,503.2 L148.7,503.3 L149.1,503.3 L149.5,503.3 L150.0,503.4 L150.4,503.4 L150.8,503.5 L151.3,503.5 L151.7,503.5" fill="none" stroke="#168a3f" stroke-width="1" stroke-linejoin="round"/>
<path d="M152,445 H166" stroke="#1fa84f" stroke-width="1.200"/><path d="M152,453.200 H166" stroke="#e8383d" stroke-width="1.200"/>
<text x="167.700" y="447" font-size="5.600" fill="#222">Batch 1</text><text x="167.700" y="455.200" font-size="5.600" fill="#222">Batch 2</text>
<text transform="translate(68.300,471.700) rotate(90)" font-size="5.200" fill="#333" text-anchor="middle">Density</text>
<text x="139" y="514.400" font-size="5.400" fill="#222" text-anchor="middle">Signal Intensity</text>
<text x="134.500" y="478" class="b" font-size="17.600" fill="#b58a06">GMQN</text>
<text y="448.800" class="b" font-size="15.600" fill="#b58a06" xml:space="preserve"><tspan x="274.600">9 </tspan><tspan x="291.800">Modules</tspan></text>
<rect x="240.70" y="466.00" width="6.22" height="2.45" fill="#f8e8e8"/>
<rect x="240.70" y="468.40" width="6.22" height="2.45" fill="#dbe4f6"/>
<rect x="240.70" y="470.80" width="6.22" height="2.45" fill="#faf0f0"/>
<rect x="240.70" y="473.20" width="6.22" height="2.45" fill="#f9ecec"/>
<rect x="240.70" y="475.60" width="6.22" height="2.45" fill="#fcf5f5"/>
<rect x="240.70" y="478.00" width="6.22" height="2.45" fill="#e8edf9"/>
<rect x="240.70" y="480.40" width="6.22" height="2.45" fill="#f7e6e6"/>
<rect x="246.87" y="466.00" width="6.22" height="2.45" fill="#ebeff9"/>
<rect x="246.87" y="468.40" width="6.22" height="2.45" fill="#e2e8f6"/>
<rect x="246.87" y="470.80" width="6.22" height="2.45" fill="#eff2fa"/>
<rect x="246.87" y="473.20" width="6.22" height="2.45" fill="#d4def4"/>
<rect x="246.87" y="475.60" width="6.22" height="2.45" fill="#edf0f9"/>
<rect x="246.87" y="478.00" width="6.22" height="2.45" fill="#e6ecf8"/>
<rect x="246.87" y="480.40" width="6.22" height="2.45" fill="#e8ecf8"/>
<rect x="253.04" y="466.00" width="6.22" height="2.45" fill="#e5a19f"/>
<rect x="253.04" y="468.40" width="6.22" height="2.45" fill="#dc7d7a"/>
<rect x="253.04" y="470.80" width="6.22" height="2.45" fill="#d4def4"/>
<rect x="253.04" y="473.20" width="6.22" height="2.45" fill="#e8aba9"/>
<rect x="253.04" y="475.60" width="6.22" height="2.45" fill="#ebb6b4"/>
<rect x="253.04" y="478.00" width="6.22" height="2.45" fill="#e39794"/>
<rect x="253.04" y="480.40" width="6.22" height="2.45" fill="#e08c89"/>
<rect x="259.21" y="466.00" width="6.22" height="2.45" fill="#e6a3a1"/>
<rect x="259.21" y="468.40" width="6.22" height="2.45" fill="#eebfbe"/>
<rect x="259.21" y="470.80" width="6.22" height="2.45" fill="#f3d4d3"/>
<rect x="259.21" y="473.20" width="6.22" height="2.45" fill="#e7a7a5"/>
<rect x="259.21" y="475.60" width="6.22" height="2.45" fill="#dce4f6"/>
<rect x="259.21" y="478.00" width="6.22" height="2.45" fill="#ebb7b5"/>
<rect x="259.21" y="480.40" width="6.22" height="2.45" fill="#efc4c3"/>
<rect x="265.38" y="466.00" width="6.22" height="2.45" fill="#8aa5e1"/>
<rect x="265.38" y="468.40" width="6.22" height="2.45" fill="#3866cc"/>
<rect x="265.38" y="470.80" width="6.22" height="2.45" fill="#8ba6e1"/>
<rect x="265.38" y="473.20" width="6.22" height="2.45" fill="#406cce"/>
<rect x="265.38" y="475.60" width="6.22" height="2.45" fill="#9db4e6"/>
<rect x="265.38" y="478.00" width="6.22" height="2.45" fill="#3060ca"/>
<rect x="265.38" y="480.40" width="6.22" height="2.45" fill="#597fd4"/>
<rect x="271.55" y="466.00" width="6.22" height="2.45" fill="#c0ceee"/>
<rect x="271.55" y="468.40" width="6.22" height="2.45" fill="#9db4e6"/>
<rect x="271.55" y="470.80" width="6.22" height="2.45" fill="#c3d1ef"/>
<rect x="271.55" y="473.20" width="6.22" height="2.45" fill="#adc0ea"/>
<rect x="271.55" y="475.60" width="6.22" height="2.45" fill="#dde5f6"/>
<rect x="271.55" y="478.00" width="6.22" height="2.45" fill="#f4d7d6"/>
<rect x="271.55" y="480.40" width="6.22" height="2.45" fill="#c0ceee"/>
<rect x="277.72" y="466.00" width="6.22" height="2.45" fill="#c9d6f1"/>
<rect x="277.72" y="468.40" width="6.22" height="2.45" fill="#bdccee"/>
<rect x="277.72" y="470.80" width="6.22" height="2.45" fill="#e2e9f7"/>
<rect x="277.72" y="473.20" width="6.22" height="2.45" fill="#b5c6ec"/>
<rect x="277.72" y="475.60" width="6.22" height="2.45" fill="#cfdaf2"/>
<rect x="277.72" y="478.00" width="6.22" height="2.45" fill="#c2d0ef"/>
<rect x="277.72" y="480.40" width="6.22" height="2.45" fill="#becdee"/>
<rect x="283.89" y="466.00" width="6.22" height="2.45" fill="#c8322d"/>
<rect x="283.89" y="468.40" width="6.22" height="2.45" fill="#dd817d"/>
<rect x="283.89" y="470.80" width="6.22" height="2.45" fill="#ebb6b4"/>
<rect x="283.89" y="473.20" width="6.22" height="2.45" fill="#d15450"/>
<rect x="283.89" y="475.60" width="6.22" height="2.45" fill="#efc3c2"/>
<rect x="283.89" y="478.00" width="6.22" height="2.45" fill="#d76c68"/>
<rect x="283.89" y="480.40" width="6.22" height="2.45" fill="#c8322d"/>
<rect x="290.06" y="466.00" width="6.22" height="2.45" fill="#668ad8"/>
<rect x="290.06" y="468.40" width="6.22" height="2.45" fill="#e59e9c"/>
<rect x="290.06" y="470.80" width="6.22" height="2.45" fill="#95aee4"/>
<rect x="290.06" y="473.20" width="6.22" height="2.45" fill="#426ece"/>
<rect x="290.06" y="475.60" width="6.22" height="2.45" fill="#b2c3eb"/>
<rect x="290.06" y="478.00" width="6.22" height="2.45" fill="#90a9e2"/>
<rect x="290.06" y="480.40" width="6.22" height="2.45" fill="#eec1c0"/>
<rect x="296.23" y="466.00" width="6.22" height="2.45" fill="#becdee"/>
<rect x="296.23" y="468.40" width="6.22" height="2.45" fill="#f4d6d5"/>
<rect x="296.23" y="470.80" width="6.22" height="2.45" fill="#e1e8f7"/>
<rect x="296.23" y="473.20" width="6.22" height="2.45" fill="#c4d2f0"/>
<rect x="296.23" y="475.60" width="6.22" height="2.45" fill="#e0e7f7"/>
<rect x="296.23" y="478.00" width="6.22" height="2.45" fill="#a9bde9"/>
<rect x="296.23" y="480.40" width="6.22" height="2.45" fill="#bccbed"/>
<rect x="302.40" y="466.00" width="6.22" height="2.45" fill="#f8e7e7"/>
<rect x="302.40" y="468.40" width="6.22" height="2.45" fill="#f6dfde"/>
<rect x="302.40" y="470.80" width="6.22" height="2.45" fill="#fbf1f1"/>
<rect x="302.40" y="473.20" width="6.22" height="2.45" fill="#f3f6fc"/>
<rect x="302.40" y="475.60" width="6.22" height="2.45" fill="#fbf2f2"/>
<rect x="302.40" y="478.00" width="6.22" height="2.45" fill="#f6e0df"/>
<rect x="302.40" y="480.40" width="6.22" height="2.45" fill="#faeded"/>
<rect x="308.57" y="466.00" width="6.22" height="2.45" fill="#e08e8c"/>
<rect x="308.57" y="468.40" width="6.22" height="2.45" fill="#b7c8ec"/>
<rect x="308.57" y="470.80" width="6.22" height="2.45" fill="#eec1bf"/>
<rect x="308.57" y="473.20" width="6.22" height="2.45" fill="#da7673"/>
<rect x="308.57" y="475.60" width="6.22" height="2.45" fill="#f1ccca"/>
<rect x="308.57" y="478.00" width="6.22" height="2.45" fill="#e8a9a7"/>
<rect x="308.57" y="480.40" width="6.22" height="2.45" fill="#e08e8b"/>
<rect x="314.74" y="466.00" width="6.22" height="2.45" fill="#fdfdfd"/>
<rect x="314.74" y="468.40" width="6.22" height="2.45" fill="#fcfcfd"/>
<rect x="314.74" y="470.80" width="6.22" height="2.45" fill="#fdfdfe"/>
<rect x="314.74" y="473.20" width="6.22" height="2.45" fill="#fcfcfd"/>
<rect x="314.74" y="475.60" width="6.22" height="2.45" fill="#fefefe"/>
<rect x="314.74" y="478.00" width="6.22" height="2.45" fill="#fcf5f5"/>
<rect x="314.74" y="480.40" width="6.22" height="2.45" fill="#fdfdfe"/>
<rect x="320.91" y="466.00" width="6.22" height="2.45" fill="#c3d1ef"/>
<rect x="320.91" y="468.40" width="6.22" height="2.45" fill="#a2b7e7"/>
<rect x="320.91" y="470.80" width="6.22" height="2.45" fill="#ccd8f2"/>
<rect x="320.91" y="473.20" width="6.22" height="2.45" fill="#a2b8e7"/>
<rect x="320.91" y="475.60" width="6.22" height="2.45" fill="#dfe6f6"/>
<rect x="320.91" y="478.00" width="6.22" height="2.45" fill="#c6d3f0"/>
<rect x="320.91" y="480.40" width="6.22" height="2.45" fill="#b2c4eb"/>
<rect x="327.08" y="466.00" width="6.22" height="2.45" fill="#285ac8"/>
<rect x="327.08" y="468.40" width="6.22" height="2.45" fill="#3b68cc"/>
<rect x="327.08" y="470.80" width="6.22" height="2.45" fill="#b8c8ec"/>
<rect x="327.08" y="473.20" width="6.22" height="2.45" fill="#285ac8"/>
<rect x="327.08" y="475.60" width="6.22" height="2.45" fill="#8da7e1"/>
<rect x="327.08" y="478.00" width="6.22" height="2.45" fill="#7394db"/>
<rect x="327.08" y="480.40" width="6.22" height="2.45" fill="#6186d6"/>
<text transform="translate(241.7,465) rotate(-52)" font-size="2.300" fill="#9a9a9a">AHRR cg61883</text>
<text transform="translate(247.9,465) rotate(-52)" font-size="2.300" fill="#9a9a9a">F2RL3 cg70707</text>
<text transform="translate(254.0,465) rotate(-52)" font-size="2.300" fill="#9a9a9a">GFI1 cg62610</text>
<text transform="translate(260.2,465) rotate(-52)" font-size="2.300" fill="#9a9a9a">MYO1G cg21130</text>
<text transform="translate(266.4,465) rotate(-52)" font-size="2.300" fill="#9a9a9a">CYP1A1 cg30821</text>
<text transform="translate(272.6,465) rotate(-52)" font-size="2.300" fill="#9a9a9a">GPR15 cg32282</text>
<text transform="translate(278.7,465) rotate(-52)" font-size="2.300" fill="#9a9a9a">LRP5 cg26651</text>
<text transform="translate(284.9,465) rotate(-52)" font-size="2.300" fill="#9a9a9a">ALPPL2 cg13610</text>
<text transform="translate(291.1,465) rotate(-52)" font-size="2.300" fill="#9a9a9a">CNTNAP2 cg29811</text>
<text transform="translate(297.2,465) rotate(-52)" font-size="2.300" fill="#9a9a9a">PRSS23 cg87438</text>
<text transform="translate(303.4,465) rotate(-52)" font-size="2.300" fill="#9a9a9a">RARA cg70994</text>
<text transform="translate(309.6,465) rotate(-52)" font-size="2.300" fill="#9a9a9a">HOXA9 cg95964</text>
<text transform="translate(315.7,465) rotate(-52)" font-size="2.300" fill="#9a9a9a">SEMA7A cg29159</text>
<text transform="translate(321.9,465) rotate(-52)" font-size="2.300" fill="#9a9a9a">NFE2L2 cg90160</text>
<text transform="translate(328.1,465) rotate(-52)" font-size="2.300" fill="#9a9a9a">KLF14 cg88101</text>
<text transform="translate(334.2,465) rotate(-52)" font-size="2.300" fill="#9a9a9a">ZNF385D cg72174</text>
<text x="291" y="487.600" font-size="2.600" fill="#777" text-anchor="middle">Genomic Location Enrichment</text>
<path d="M251.0,489 V513" stroke="#eee" stroke-width="0.400"/>
<path d="M261.9,489 V513" stroke="#eee" stroke-width="0.400"/>
<path d="M272.8,489 V513" stroke="#eee" stroke-width="0.400"/>
<path d="M283.7,489 V513" stroke="#eee" stroke-width="0.400"/>
<path d="M294.6,489 V513" stroke="#eee" stroke-width="0.400"/>
<path d="M305.5,489 V513" stroke="#eee" stroke-width="0.400"/>
<path d="M316.4,489 V513" stroke="#eee" stroke-width="0.400"/>
<path d="M327.3,489 V513" stroke="#eee" stroke-width="0.400"/>
<path d="M338.2,489 V513" stroke="#eee" stroke-width="0.400"/>
<path d="M298.0,490.5 H278.1" stroke="#7a7a7a" stroke-width="1.2"/>
<path d="M298.0,492.2 H281.0" stroke="#7a7a7a" stroke-width="1.2"/>
<path d="M298.0,492.2 H331.4" stroke="#6aa6e8" stroke-width="0.7"/>
<path d="M298.0,496.1 H294.1" stroke="#7a7a7a" stroke-width="1.2"/>
<path d="M298.0,497.8 H303.6" stroke="#6aa6e8" stroke-width="0.7"/>
<path d="M298.0,499.5 H260.3" stroke="#7a7a7a" stroke-width="1.2"/>
<path d="M298.0,501.3 H303.6" stroke="#6aa6e8" stroke-width="0.7"/>
<path d="M298.0,503.4 H295.4" stroke="#7a7a7a" stroke-width="1.2"/>
<path d="M298.0,505.1 H324.1" stroke="#6aa6e8" stroke-width="0.7"/>
<path d="M298.0,506.8 H294.1" stroke="#7a7a7a" stroke-width="1.2"/>
<path d="M298.0,508.6 H285.0" stroke="#7a7a7a" stroke-width="1.2"/>
<path d="M298.0,510.5 H279.8" stroke="#7a7a7a" stroke-width="1.2"/>
<path d="M298.0,512.2 H306.4" stroke="#6aa6e8" stroke-width="0.7"/>
<text x="249.500" y="491.3" font-size="1.900" fill="#999" text-anchor="end">TSS1500</text>
<text x="249.500" y="493.3" font-size="1.900" fill="#999" text-anchor="end">TSS200</text>
<text x="249.500" y="495.3" font-size="1.900" fill="#999" text-anchor="end">5'UTR</text>
<text x="249.500" y="497.3" font-size="1.900" fill="#999" text-anchor="end">1stExon</text>
<text x="249.500" y="499.3" font-size="1.900" fill="#999" text-anchor="end">Body</text>
<text x="249.500" y="501.3" font-size="1.900" fill="#999" text-anchor="end">3'UTR</text>
<text x="249.500" y="503.3" font-size="1.900" fill="#999" text-anchor="end">Island</text>
<text x="249.500" y="505.3" font-size="1.900" fill="#999" text-anchor="end">N_Shore</text>
<text x="249.500" y="507.3" font-size="1.900" fill="#999" text-anchor="end">S_Shore</text>
<text x="249.500" y="509.3" font-size="1.900" fill="#999" text-anchor="end">N_Shelf</text>
<text x="249.500" y="511.3" font-size="1.900" fill="#999" text-anchor="end">S_Shelf</text>
<text x="249.500" y="513.3" font-size="1.900" fill="#999" text-anchor="end">OpenSea</text>
<text x="251.0" y="515.400" font-size="2.200" fill="#999" text-anchor="middle">-4</text>
<text x="261.9" y="515.400" font-size="2.200" fill="#999" text-anchor="middle">-3</text>
<text x="272.8" y="515.400" font-size="2.200" fill="#999" text-anchor="middle">-2</text>
<text x="283.7" y="515.400" font-size="2.200" fill="#999" text-anchor="middle">-1</text>
<text x="294.6" y="515.400" font-size="2.200" fill="#999" text-anchor="middle">0</text>
<text x="305.5" y="515.400" font-size="2.200" fill="#999" text-anchor="middle">1</text>
<text x="316.4" y="515.400" font-size="2.200" fill="#999" text-anchor="middle">2</text>
<text x="327.3" y="515.400" font-size="2.200" fill="#999" text-anchor="middle">3</text>
<text x="338.2" y="515.400" font-size="2.200" fill="#999" text-anchor="middle">4</text>
<text x="291" y="517.800" font-size="2.200" fill="#999" text-anchor="middle">log2(Odds ratio)</text>
<text x="366.300" y="463.500" font-size="2.600" class="b" fill="#333" text-anchor="middle">MOTIF</text>
<path d="M345,476.8 H388" stroke="#eee" stroke-width="0.400"/>
<text transform="translate(346.00,475.5) scale(0.52,1)" class="b" font-size="11" fill="#2ea12e">A</text>
<text transform="translate(350.08,471.9) scale(0.52,0.5)" class="b" font-size="11" fill="#2a4fe0">C</text>
<text transform="translate(350.08,475.5) scale(0.52,0.42)" class="b" font-size="11" fill="#f5a300">G</text>
<text transform="translate(354.16,471.9) scale(0.52,0.5)" class="b" font-size="11" fill="#2a4fe0">C</text>
<text transform="translate(354.16,475.5) scale(0.52,0.42)" class="b" font-size="11" fill="#f5a300">G</text>
<text transform="translate(358.24,475.5) scale(0.52,1)" class="b" font-size="11" fill="#2ea12e">A</text>
<text transform="translate(362.32,475.5) scale(0.52,1)" class="b" font-size="11" fill="#f5a300">G</text>
<text transform="translate(366.40,475.5) scale(0.52,1)" class="b" font-size="11" fill="#f5a300">G</text>
<text transform="translate(370.48,475.5) scale(0.52,1)" class="b" font-size="11" fill="#2ea12e">A</text>
<text transform="translate(374.56,475.5) scale(0.52,1)" class="b" font-size="11" fill="#2ea12e">A</text>
<text transform="translate(378.64,475.5) scale(0.52,1)" class="b" font-size="11" fill="#f5a300">G</text>
<text transform="translate(382.72,475.5) scale(0.52,1)" class="b" font-size="11" fill="#e02a2a">T</text>
<path d="M345,487.8 H388" stroke="#eee" stroke-width="0.400"/>
<text transform="translate(346.00,486.5) scale(0.52,1)" class="b" font-size="11" fill="#2ea12e">A</text>
<text transform="translate(350.08,482.9) scale(0.52,0.5)" class="b" font-size="11" fill="#f5a300">G</text>
<text transform="translate(350.08,486.5) scale(0.52,0.42)" class="b" font-size="11" fill="#2ea12e">A</text>
<text transform="translate(354.16,486.5) scale(0.52,1)" class="b" font-size="11" fill="#2a4fe0">C</text>
<text transform="translate(358.24,486.5) scale(0.52,1)" class="b" font-size="11" fill="#2a4fe0">C</text>
<text transform="translate(362.32,486.5) scale(0.52,1)" class="b" font-size="11" fill="#2ea12e">A</text>
<text transform="translate(366.40,486.5) scale(0.52,1)" class="b" font-size="11" fill="#2ea12e">A</text>
<text transform="translate(370.48,486.5) scale(0.52,1)" class="b" font-size="11" fill="#e02a2a">T</text>
<text transform="translate(374.56,482.9) scale(0.52,0.5)" class="b" font-size="11" fill="#2a4fe0">C</text>
<text transform="translate(374.56,486.5) scale(0.52,0.42)" class="b" font-size="11" fill="#f5a300">G</text>
<text transform="translate(378.64,482.9) scale(0.52,0.5)" class="b" font-size="11" fill="#f5a300">G</text>
<text transform="translate(378.64,486.5) scale(0.52,0.42)" class="b" font-size="11" fill="#2ea12e">A</text>
<text transform="translate(382.72,486.5) scale(0.52,1)" class="b" font-size="11" fill="#f5a300">G</text>
<path d="M345,498.6 H388" stroke="#eee" stroke-width="0.400"/>
<text transform="translate(346.00,497.3) scale(0.52,1)" class="b" font-size="11" fill="#2ea12e">A</text>
<text transform="translate(350.08,493.7) scale(0.52,0.5)" class="b" font-size="11" fill="#2a4fe0">C</text>
<text transform="translate(350.08,497.3) scale(0.52,0.42)" class="b" font-size="11" fill="#f5a300">G</text>
<text transform="translate(354.16,493.7) scale(0.52,0.5)" class="b" font-size="11" fill="#f5a300">G</text>
<text transform="translate(354.16,497.3) scale(0.52,0.42)" class="b" font-size="11" fill="#2ea12e">A</text>
<text transform="translate(358.24,497.3) scale(0.52,1)" class="b" font-size="11" fill="#2ea12e">A</text>
<text transform="translate(362.32,497.3) scale(0.52,1)" class="b" font-size="11" fill="#f5a300">G</text>
<text transform="translate(366.40,497.3) scale(0.52,1)" class="b" font-size="11" fill="#f5a300">G</text>
<text transform="translate(370.48,497.3) scale(0.52,1)" class="b" font-size="11" fill="#2ea12e">A</text>
<text transform="translate(374.56,497.3) scale(0.52,1)" class="b" font-size="11" fill="#2ea12e">A</text>
<text transform="translate(378.64,497.3) scale(0.52,1)" class="b" font-size="11" fill="#f5a300">G</text>
<text transform="translate(382.72,497.3) scale(0.52,1)" class="b" font-size="11" fill="#e02a2a">T</text>
<path d="M345,509.0 H388" stroke="#eee" stroke-width="0.400"/>
<text transform="translate(346.00,507.7) scale(0.52,1)" class="b" font-size="11" fill="#2ea12e">A</text>
<text transform="translate(350.08,504.09999999999997) scale(0.52,0.5)" class="b" font-size="11" fill="#2a4fe0">C</text>
<text transform="translate(350.08,507.7) scale(0.52,0.42)" class="b" font-size="11" fill="#f5a300">G</text>
<text transform="translate(354.16,504.09999999999997) scale(0.52,0.5)" class="b" font-size="11" fill="#2a4fe0">C</text>
<text transform="translate(354.16,507.7) scale(0.52,0.42)" class="b" font-size="11" fill="#f5a300">G</text>
<text transform="translate(358.24,507.7) scale(0.52,1)" class="b" font-size="11" fill="#2ea12e">A</text>
<text transform="translate(362.32,507.7) scale(0.52,1)" class="b" font-size="11" fill="#f5a300">G</text>
<text transform="translate(366.40,507.7) scale(0.52,1)" class="b" font-size="11" fill="#f5a300">G</text>
<text transform="translate(370.48,507.7) scale(0.52,1)" class="b" font-size="11" fill="#2ea12e">A</text>
<text transform="translate(374.56,507.7) scale(0.52,1)" class="b" font-size="11" fill="#2ea12e">A</text>
<text transform="translate(378.64,507.7) scale(0.52,1)" class="b" font-size="11" fill="#f5a300">G</text>
<text transform="translate(382.72,507.7) scale(0.52,1)" class="b" font-size="11" fill="#e02a2a">T</text>
<rect x="431" y="434" width="146" height="77" fill="#f3f3f3"/>
<path d="M493.1,454.4 L479.5,440.8 M493.1,454.4 L493.9,440.8 M493.1,454.4 L483.4,444.7 M493.1,454.4 L473.2,449.6 M493.1,454.4 L487.5,439.1 M493.1,454.4 L474.4,445.0 M536.5,452.3 L538.2,441.6 M536.5,452.3 L547.2,437.4 M536.5,452.3 L548.1,443.0 M536.5,452.3 L555.7,442.1 M536.5,452.3 L556.1,447.9 M490.5,471.9 L469.8,467.7 M490.5,471.9 L473.2,474.5 M490.5,471.9 L468.7,479.1 M490.5,471.9 L466.7,472.3 M490.5,471.9 L474.9,482.1 M490.5,471.9 L485.8,461.5 M490.5,471.9 L480.3,461.5 M490.5,471.9 L496.5,466.6 M507.0,477.0 L493.1,484.5 M507.0,477.0 L518.1,477.7 M507.0,477.0 L496.5,466.6 M538.7,477.0 L561.2,476.9 M538.7,477.0 L554.4,482.5 M538.7,477.0 L557.4,471.4 M538.7,477.0 L560.8,482.0 M538.7,477.0 L541.9,462.0 M509.3,491.8 L491.4,499.0 M509.3,491.8 L495.6,505.1 M509.3,491.8 L504.1,509.4 M509.3,491.8 L505.5,504.6 M509.3,491.8 L512.3,507.5 M509.3,491.8 L516.1,488.1 M531.9,491.0 L545.9,501.7 M531.9,491.0 L531.9,506.3 M531.9,491.0 L525.4,485.4 M531.9,491.0 L516.1,488.1 M516.4,470.9 L493.1,454.4 M516.4,470.9 L536.5,452.3 M516.4,470.9 L490.5,471.9 M516.4,470.9 L507.0,477.0 M516.4,470.9 L538.7,477.0 M516.4,470.9 L509.3,491.8 M516.4,470.9 L531.9,491.0 M493.1,454.4 L507.0,477.0 M493.1,454.4 L509.3,491.8 M490.5,471.9 L507.0,477.0 M507.0,477.0 L509.3,491.8 M507.0,477.0 L531.9,491.0 M538.7,477.0 L531.9,491.0 M509.3,491.8 L531.9,491.0 M507.0,477.0 L538.7,477.0 M493.1,454.4 L490.5,471.9 M516.4,470.9 L517.8,454.4 M516.4,470.9 L516.9,463.2 M516.4,470.9 L525.4,468.3 M517.8,454.4 L514.7,440.8 M517.8,454.4 L522.0,440.8" stroke="#777" stroke-width="0.350" fill="none"/>
<path d="M479.5,439.5 L480.8,441.8 L478.2,441.8 Z" fill="#2e9e4a"/>
<path d="M493.9,439.5 L495.2,441.8 L492.6,441.8 Z" fill="#2e9e4a"/>
<path d="M483.4,443.4 L484.7,445.7 L482.1,445.7 Z" fill="#2e9e4a"/>
<path d="M473.2,448.3 L474.5,450.7 L471.9,450.7 Z" fill="#2e9e4a"/>
<path d="M487.5,437.8 L488.8,440.1 L486.2,440.1 Z" fill="#1f2fb5"/>
<path d="M474.4,443.7 L475.7,446.1 L473.1,446.1 Z" fill="#22d8e8"/>
<path d="M538.2,440.3 L539.5,442.7 L536.9,442.7 Z" fill="#2e9e4a"/>
<path d="M547.2,436.1 L548.5,438.4 L545.9,438.4 Z" fill="#2e9e4a"/>
<path d="M548.1,441.7 L549.4,444.0 L546.8,444.0 Z" fill="#2e9e4a"/>
<path d="M555.7,440.8 L557.0,443.2 L554.4,443.2 Z" fill="#2e9e4a"/>
<path d="M556.1,446.6 L557.4,449.0 L554.8,449.0 Z" fill="#2e9e4a"/>
<path d="M469.8,466.4 L471.1,468.7 L468.5,468.7 Z" fill="#2e9e4a"/>
<path d="M473.2,473.2 L474.5,475.5 L471.9,475.5 Z" fill="#2e9e4a"/>
<path d="M468.7,477.8 L470.0,480.1 L467.4,480.1 Z" fill="#2e9e4a"/>
<path d="M466.7,471.0 L468.0,473.3 L465.4,473.3 Z" fill="#1f2fb5"/>
<path d="M474.9,480.8 L476.2,483.2 L473.6,483.2 Z" fill="#1f2fb5"/>
<path d="M485.8,460.2 L487.1,462.6 L484.5,462.6 Z" fill="#2e9e4a"/>
<path d="M480.3,460.2 L481.6,462.6 L479.0,462.6 Z" fill="#9a6fe0"/>
<path d="M496.5,465.3 L497.8,467.7 L495.2,467.7 Z" fill="#22d8e8"/>
<path d="M493.1,483.2 L494.4,485.6 L491.8,485.6 Z" fill="#9a6fe0"/>
<path d="M518.1,476.4 L519.4,478.7 L516.8,478.7 Z" fill="#1f2fb5"/>
<path d="M561.2,475.6 L562.5,477.9 L559.9,477.9 Z" fill="#2e9e4a"/>
<path d="M554.4,481.2 L555.7,483.5 L553.1,483.5 Z" fill="#2e9e4a"/>
<path d="M557.4,470.1 L558.7,472.4 L556.1,472.4 Z" fill="#1f2fb5"/>
<path d="M560.8,480.7 L562.1,483.0 L559.5,483.0 Z" fill="#1f2fb5"/>
<path d="M541.9,460.7 L543.2,463.1 L540.6,463.1 Z" fill="#9a6fe0"/>
<path d="M491.4,497.7 L492.7,500.0 L490.1,500.0 Z" fill="#22d8e8"/>
<path d="M495.6,503.8 L496.9,506.1 L494.3,506.1 Z" fill="#22d8e8"/>
<path d="M504.1,508.1 L505.4,510.4 L502.8,510.4 Z" fill="#9a6fe0"/>
<path d="M505.5,503.3 L506.8,505.6 L504.2,505.6 Z" fill="#9a6fe0"/>
<path d="M512.3,506.2 L513.6,508.5 L511.0,508.5 Z" fill="#2e9e4a"/>
<path d="M516.1,486.8 L517.4,489.1 L514.8,489.1 Z" fill="#22d8e8"/>
<path d="M545.9,500.4 L547.2,502.7 L544.6,502.7 Z" fill="#22d8e8"/>
<path d="M531.9,505.0 L533.2,507.3 L530.6,507.3 Z" fill="#1f2fb5"/>
<path d="M525.4,484.1 L526.7,486.4 L524.1,486.4 Z" fill="#1f2fb5"/>
<path d="M514.7,439.5 L516.0,441.8 L513.4,441.8 Z" fill="#1f2fb5"/>
<path d="M522.0,439.5 L523.3,441.8 L520.7,441.8 Z" fill="#22d8e8"/>
<ellipse cx="493.1" cy="454.4" rx="2.200" ry="1.300" fill="#f5872a"/>
<ellipse cx="536.5" cy="452.3" rx="2.200" ry="1.300" fill="#f5872a"/>
<ellipse cx="490.5" cy="471.9" rx="2.200" ry="1.300" fill="#f5872a"/>
<ellipse cx="507.0" cy="477.0" rx="2.200" ry="1.300" fill="#f5872a"/>
<ellipse cx="538.7" cy="477.0" rx="2.200" ry="1.300" fill="#f5872a"/>
<ellipse cx="509.3" cy="491.8" rx="2.200" ry="1.300" fill="#f5872a"/>
<ellipse cx="531.9" cy="491.0" rx="2.200" ry="1.300" fill="#f5872a"/>
<ellipse cx="517.8" cy="454.4" rx="1" ry="0.800" fill="#f5a04a"/>
<ellipse cx="516.9" cy="463.2" rx="1" ry="0.800" fill="#f5a04a"/>
<ellipse cx="525.4" cy="468.3" rx="1" ry="0.800" fill="#f5a04a"/>
<path d="M516.4,469.4 L517.9,472.1 L514.9,472.1 Z" fill="#e8202a"/>
<text x="462.4" y="439.2" font-size="2" fill="#222">plasma fasting HOMA-IR levels</text>
<text x="501.6" y="439.2" font-size="2" fill="#222">Cows disease syndrome</text>
<text x="524.6" y="436.5" font-size="2" fill="#222">absolute fat mass (DXA, kg)</text>
<text x="531.4" y="441.6" font-size="2" fill="#222">BMI2 standardized BMI (ZBMI)</text>
<text x="538.2" y="446.4" font-size="2" fill="#222">fat free index score (FFMI, kg/m2)</text>
<text x="431.0" y="443.7" font-size="2" fill="#222">B-Acute Lymphoblastic Leukemia with t(12;21)(p13;q22); TEL-AML1 (ETV6-RUNX1)</text>
<text x="448.8" y="448.8" font-size="2" fill="#222">blood high density lipoprotein (HDL) levels</text>
<text x="488.8" y="453.5" font-size="2" fill="#222">obesity</text>
<text x="510.1" y="453.5" font-size="2" fill="#222">SFT1 (CD68+)</text>
<text x="528.8" y="451.3" font-size="2" fill="#222">SFT1 (CD11c+)</text>
<text x="471.0" y="460.3" font-size="2" fill="#222">waist circumference (WC)</text>
<text x="508.4" y="462.6" font-size="2" fill="#222">SFT1 (CD11b+)</text>
<text x="481.2" y="464.9" font-size="2" fill="#222">papillary thyroid carcinoma</text>
<text x="519.5" y="467.7" font-size="2" fill="#222">SFT1 (CD4+)</text>
<text x="503.3" y="469.9" font-size="2" fill="#222">body mass index (BMI)</text>
<text x="539.9" y="470.0" font-size="2" fill="#222">body mass index (BMI) change</text>
<text x="458.2" y="470.9" font-size="2" fill="#222">kidney disease</text>
<text x="448.8" y="473.6" font-size="2" fill="#222">very low density lipoprotein (VLDL) cholesterol</text>
<text x="487.1" y="470.9" font-size="2" fill="#222">obesity</text>
<text x="455.3" y="477.9" font-size="2" fill="#222">blood triglyceride levels</text>
<text x="445.1" y="481.3" font-size="2" fill="#222">myalgic encephalomyelitis/chronic fatigue syndrome</text>
<text x="509.3" y="476.9" font-size="2" fill="#222">fetal vs adult liver</text>
<text x="530.5" y="475.7" font-size="2" fill="#222">birthwt adult 2</text>
<text x="556.9" y="480.8" font-size="2" fill="#222">asthma</text>
<text x="482.9" y="483.8" font-size="2" fill="#222">Down syndrome</text>
<text x="512.7" y="484.2" font-size="2" fill="#222">Crohn's disease (CD)</text>
<text x="507.6" y="487.1" font-size="2" fill="#222">prostate cancer</text>
<text x="527.1" y="489.3" font-size="2" fill="#222">male SMP</text>
<text x="506.4" y="493.0" font-size="2" fill="#222">aging</text>
<text x="470.1" y="498.1" font-size="2" fill="#222">oral squamous cell carcinoma (OSCC)</text>
<text x="512.7" y="500.7" font-size="2" fill="#222">systemic lupus erythematosus (SLE)</text>
<text x="493.1" y="503.1" font-size="2" fill="#222">educational attainment</text>
<text x="499.0" y="506.6" font-size="2" fill="#222">cognitive function</text>
<text x="528.8" y="505.4" font-size="2" fill="#222">PTSD</text>
<text x="704.800" y="62.500" font-size="14"><tspan class="b">Trait</tspan><tspan class="b" dx="1.5">：</tspan><tspan x="752.700" textLength="90.800" lengthAdjust="spacing">breast cancer</tspan></text>
<rect x="899.500" y="25.500" width="253.500" height="35" rx="2" fill="#fff" stroke="#a6a6a6" stroke-width="2" stroke-dasharray="6.500,3"/>
<circle cx="898" cy="29.500" r="6.500" fill="#fff" stroke="#888" stroke-width="0.900"/><path d="M902.400,34.300 L907,39.300" stroke="#888" stroke-width="2" stroke-linecap="round"/><path d="M902.400,34.300 L907,39.300" stroke="#ddd" stroke-width="0.700" stroke-linecap="round"/>
<text x="946.800" y="49.600" font-size="15" fill="#444" textLength="127.600" lengthAdjust="spacing"><tspan class="b" fill="#2f54a0">Gene</tspan> / <tspan class="b" fill="#2f54a0">CpG</tspan> / <tspan class="b" fill="#2f54a0">Trait</tspan></text>
<rect x="714.700" y="72.500" width="141.800" height="19.700" rx="1.500" fill="#d0cece"/>
<rect x="872" y="72" width="170" height="19.800" rx="1.500" fill="#d0cece"/>
<rect x="1073.200" y="72" width="170.700" height="20.600" rx="1.500" fill="#d0cece"/>
<text y="86" class="b" font-size="15.400" fill="#2f54a0" xml:space="preserve"><tspan x="728.900">EWAS </tspan><tspan x="781.200">Summary</tspan></text>
<text y="88.400" class="b" font-size="15.300" fill="#2f54a0" xml:space="preserve"><tspan x="882">Methylation </tspan><tspan x="974">Profiles</tspan></text>
<text y="87.500" class="b" font-size="15.300" fill="#2f54a0" xml:space="preserve"><tspan x="1092.600">Survival </tspan><tspan x="1156.800">Analysis</tspan></text>
<rect x="718.400" y="95" width="129" height="115.500" fill="#fff" stroke="#f8f8f8" stroke-width="0.500"/>
<rect x="725.800" y="101.600" width="48.700" height="36.800" rx="2.500" fill="#e3f0fc"/>
<rect x="786.800" y="101" width="48.400" height="36.500" rx="2.500" fill="#fff1e0"/>
<text x="750.200" y="118.300" class="b" font-size="9.600" fill="#1f78d1" text-anchor="middle">14</text>
<text x="750.200" y="129.800" font-size="6.900" fill="#777" text-anchor="middle">Publications</text>
<text x="811" y="117.500" class="b" font-size="9.600" fill="#f0801a" text-anchor="middle">3615</text>
<text x="811" y="128.800" font-size="6.700" fill="#777" text-anchor="middle">CpG Sites</text>
<text x="726.300" y="155.900" class="b" font-size="8.600" fill="#333" textLength="88.500" lengthAdjust="spacingAndGlyphs">Methylation Direction:</text>
<text x="726.300" y="190.300" class="b" font-size="8.600" fill="#333" textLength="100.700" lengthAdjust="spacingAndGlyphs">CpG Position Distribution:</text>
<clipPath id="bar1"><rect x="726.300" y="164.500" width="107.200" height="10.400" rx="5.200"/></clipPath>
<g clip-path="url(#bar1)"><rect x="726" y="164" width="37.400" height="12" fill="#d9534f"/><rect x="763.400" y="164" width="71" height="12" fill="#5bc0de"/></g>
<clipPath id="bar2"><rect x="726.300" y="196.500" width="107.200" height="10.800" rx="5.400"/></clipPath>
<g clip-path="url(#bar2)"><rect x="726" y="196" width="33" height="12" fill="#5cb85c"/><rect x="759" y="196" width="27" height="12" fill="#f0ad4e"/><rect x="786" y="196" width="48" height="12" fill="#337ab7"/></g>
<path d="M898,124.4 H1010" stroke="#eee" stroke-width="0.500"/>
<text x="896.500" y="126.0" font-size="4.600" fill="#555" text-anchor="end">0.6</text>
<path d="M898,145.3 H1010" stroke="#eee" stroke-width="0.500"/>
<text x="896.500" y="146.9" font-size="4.600" fill="#555" text-anchor="end">0.4</text>
<path d="M898,165.7 H1010" stroke="#eee" stroke-width="0.500"/>
<text x="896.500" y="167.29999999999998" font-size="4.600" fill="#555" text-anchor="end">0.2</text>
<path d="M919.7,113.4 L919.7,113.4 L919.7,115.0 L919.6,116.5 L919.5,118.1 L919.4,119.7 L919.1,121.2 L918.8,122.8 L918.2,124.4 L917.5,125.9 L916.6,127.5 L915.5,129.1 L914.4,130.6 L913.2,132.2 L912.2,133.7 L911.5,135.3 L911.1,136.9 L911.1,138.4 L911.5,140.0 L912.3,141.6 L913.2,143.1 L914.3,144.7 L915.4,146.3 L916.3,147.8 L917.1,149.4 L917.7,151.0 L918.1,152.5 L918.3,154.1 L918.5,155.7 L918.6,157.2 L918.6,158.8 L918.7,160.3 L918.7,161.9 L918.7,163.5 L918.8,165.0 L918.9,166.6 L919.0,168.2 L919.1,169.7 L919.2,171.3 L919.4,172.9 L919.6,174.4 L919.7,176.0 L919.7,176.0 Z" fill="#4fa6dd" fill-opacity="0.8" stroke="#2d8fe8" stroke-width="0.9" stroke-linejoin="round"/>
<path d="M919.7,137.5 H911.1" stroke="#2d8fe8" stroke-width="0.700" stroke-dasharray="1.500,1" fill="none"/>
<path d="M919.7,123.0 L919.7,123.0 L919.8,124.3 L920.1,125.7 L920.5,127.0 L921.0,128.3 L921.5,129.6 L922.1,130.9 L922.8,132.3 L923.6,133.6 L924.5,134.9 L925.4,136.2 L926.3,137.6 L927.1,138.9 L927.7,140.2 L928.2,141.6 L928.3,142.9 L928.2,144.2 L927.9,145.5 L927.3,146.8 L926.6,148.2 L925.8,149.5 L924.9,150.8 L924.1,152.2 L923.3,153.5 L922.7,154.8 L922.1,156.1 L921.7,157.4 L921.3,158.8 L921.1,160.1 L920.9,161.4 L920.8,162.8 L920.7,164.1 L920.6,165.4 L920.5,166.7 L920.4,168.1 L920.3,169.4 L920.2,170.7 L920.1,172.0 L919.9,173.3 L919.8,174.7 L919.7,176.0 L919.7,176.0 Z" fill="#f49a9a" fill-opacity="0.8" stroke="#f23d45" stroke-width="0.9" stroke-linejoin="round"/>
<path d="M919.7,143 H928.3" stroke="#f23d45" stroke-width="0.700" stroke-dasharray="1.500,1" fill="none"/>
<path d="M942.0,123.0 L942.0,123.0 L941.8,123.9 L941.4,124.8 L940.7,125.7 L940.1,126.6 L939.4,127.5 L938.6,128.4 L937.7,129.3 L936.6,130.2 L935.5,131.1 L934.4,132.0 L933.3,132.9 L932.3,133.8 L931.5,134.7 L930.9,135.6 L930.5,136.5 L930.5,137.4 L930.8,138.3 L931.4,139.2 L932.2,140.1 L933.2,141.0 L934.3,141.9 L935.4,142.8 L936.5,143.7 L937.6,144.6 L938.5,145.5 L939.3,146.4 L940.0,147.3 L940.6,148.2 L941.0,149.1 L941.3,150.0 L941.5,150.9 L941.7,151.8 L941.8,152.7 L941.9,153.6 L941.9,154.5 L942.0,155.4 L942.0,156.3 L942.0,157.2 L942.0,158.1 L942.0,159.0 L942.0,159.0 Z" fill="#4fa6dd" fill-opacity="0.8" stroke="#2d8fe8" stroke-width="0.9" stroke-linejoin="round"/>
<path d="M942,137 H930.5" stroke="#2d8fe8" stroke-width="0.700" stroke-dasharray="1.500,1" fill="none"/>
<path d="M942.0,123.0 L942.0,123.0 L942.1,124.5 L942.4,126.0 L943.1,127.4 L943.8,128.9 L944.7,130.4 L945.8,131.8 L947.1,133.3 L948.5,134.8 L949.9,136.3 L951.1,137.8 L952.0,139.2 L952.3,140.7 L952.2,142.2 L951.6,143.7 L950.5,145.1 L949.3,146.6 L947.9,148.1 L946.6,149.6 L945.4,151.0 L944.5,152.5 L943.8,154.0 L943.4,155.4 L943.1,156.9 L942.9,158.4 L942.9,159.9 L942.8,161.3 L942.8,162.8 L942.8,164.3 L942.8,165.8 L942.8,167.2 L942.7,168.7 L942.7,170.2 L942.6,171.7 L942.6,173.2 L942.5,174.6 L942.4,176.1 L942.3,177.6 L942.2,179.1 L942.1,180.5 L942.0,182.0 L942.0,182.0 Z" fill="#f49a9a" fill-opacity="0.8" stroke="#f23d45" stroke-width="0.9" stroke-linejoin="round"/>
<path d="M942,142.5 H952.2" stroke="#f23d45" stroke-width="0.700" stroke-dasharray="1.500,1" fill="none"/>
<path d="M964.9,140.4 L964.9,140.4 L964.9,141.4 L964.8,142.4 L964.7,143.4 L964.6,144.4 L964.4,145.4 L964.2,146.4 L963.9,147.4 L963.6,148.4 L963.1,149.4 L962.5,150.4 L961.9,151.4 L961.1,152.4 L960.3,153.4 L959.4,154.4 L958.5,155.4 L957.6,156.4 L956.9,157.4 L956.2,158.4 L955.7,159.4 L955.4,160.4 L955.3,161.5 L955.5,162.5 L955.8,163.5 L956.4,164.5 L957.1,165.5 L957.9,166.5 L958.8,167.5 L959.7,168.5 L960.5,169.5 L961.4,170.5 L962.1,171.5 L962.7,172.5 L963.2,173.5 L963.7,174.5 L964.0,175.5 L964.3,176.5 L964.5,177.5 L964.7,178.5 L964.8,179.5 L964.9,180.5 L964.9,180.5 Z" fill="#4fa6dd" fill-opacity="0.8" stroke="#2d8fe8" stroke-width="0.9" stroke-linejoin="round"/>
<path d="M964.9,161.3 H955.3" stroke="#2d8fe8" stroke-width="0.700" stroke-dasharray="1.500,1" fill="none"/>
<path d="M964.9,127.4 L964.9,127.4 L965.2,128.2 L965.6,129.0 L966.3,129.8 L966.9,130.5 L967.4,131.3 L968.0,132.1 L968.7,132.9 L969.4,133.7 L970.2,134.5 L971.1,135.2 L971.9,136.0 L972.8,136.8 L973.6,137.6 L974.3,138.4 L974.9,139.2 L975.3,140.0 L975.6,140.7 L975.7,141.5 L975.6,142.3 L975.4,143.1 L974.9,143.9 L974.4,144.7 L973.7,145.5 L972.9,146.2 L972.1,147.0 L971.2,147.8 L970.4,148.6 L969.6,149.4 L968.8,150.2 L968.1,151.0 L967.5,151.7 L967.0,152.5 L966.5,153.3 L966.1,154.1 L965.8,154.9 L965.6,155.7 L965.4,156.4 L965.1,157.2 L965.0,158.0 L964.9,158.8 L964.9,158.8 Z" fill="#f49a9a" fill-opacity="0.8" stroke="#f23d45" stroke-width="0.9" stroke-linejoin="round"/>
<path d="M964.9,142 H975.6" stroke="#f23d45" stroke-width="0.700" stroke-dasharray="1.500,1" fill="none"/>
<path d="M988.0,124.4 L988.0,124.4 L987.6,125.3 L987.1,126.2 L986.1,127.2 L985.4,128.1 L984.8,129.0 L984.0,129.9 L983.2,130.9 L982.3,131.8 L981.3,132.7 L980.4,133.6 L979.5,134.5 L978.7,135.5 L978.0,136.4 L977.5,137.3 L977.1,138.2 L977.0,139.2 L977.1,140.1 L977.4,141.0 L977.9,141.9 L978.6,142.9 L979.4,143.8 L980.3,144.7 L981.2,145.6 L982.2,146.5 L983.1,147.5 L983.9,148.4 L984.7,149.3 L985.4,150.2 L986.0,151.2 L986.5,152.1 L986.8,153.0 L987.2,153.9 L987.4,154.8 L987.6,155.8 L987.7,156.7 L987.8,157.6 L987.9,158.5 L987.9,159.5 L988.0,160.4 L988.0,161.3 L988.0,161.3 Z" fill="#4fa6dd" fill-opacity="0.8" stroke="#2d8fe8" stroke-width="0.9" stroke-linejoin="round"/>
<path d="M988,139.2 H977.0" stroke="#2d8fe8" stroke-width="0.700" stroke-dasharray="1.500,1" fill="none"/>
<path d="M988.0,122.0 L988.0,122.0 L988.1,123.1 L988.4,124.1 L989.0,125.2 L989.5,126.2 L990.1,127.3 L990.8,128.4 L991.8,129.4 L992.8,130.5 L994.0,131.6 L995.2,132.6 L996.4,133.7 L997.6,134.8 L998.5,135.8 L999.1,136.9 L999.5,137.9 L999.4,139.0 L999.1,140.1 L998.4,141.1 L997.4,142.2 L996.3,143.2 L995.1,144.3 L993.9,145.4 L992.7,146.4 L991.6,147.5 L990.7,148.6 L990.0,149.6 L989.4,150.7 L989.0,151.8 L988.6,152.8 L988.4,153.9 L988.3,154.9 L988.2,156.0 L988.1,157.1 L988.1,158.1 L988.0,159.2 L988.0,160.2 L988.0,161.3 L988.0,162.4 L988.0,163.4 L988.0,164.5 L988.0,164.5 Z" fill="#f49a9a" fill-opacity="0.8" stroke="#f23d45" stroke-width="0.9" stroke-linejoin="round"/>
<path d="M988,138.4 H999.5" stroke="#f23d45" stroke-width="0.700" stroke-dasharray="1.500,1" fill="none"/>
<text transform="translate(918,187.5) rotate(32)" x="0" y="3" font-size="4.800" fill="#555">breast</text>
<text transform="translate(940.5,187.5) rotate(32)" x="0" y="3" font-size="4.800" fill="#555">leukocyte</text>
<text transform="translate(963.5,187.5) rotate(32)" x="0" y="3" font-size="4.800" fill="#555">lymph node</text>
<text transform="translate(986,187.5) rotate(32)" x="0" y="3" font-size="4.800" fill="#555">whole blood</text>
<rect x="1017.300" y="112.300" width="4.800" height="4.800" fill="#4fa6dd" stroke="#2d8fe8" stroke-width="0.800"/><text x="1026.600" y="116.400" font-size="4.500" fill="#444">Case</text>
<rect x="1017.300" y="122.300" width="4.800" height="4.800" fill="#f49a9a" stroke="#f23d45" stroke-width="0.800"/><text x="1026.600" y="126.500" font-size="4.500" fill="#444">Control</text>
<rect x="1092.400" y="104.700" width="145" height="71.800" fill="#fff" stroke="#c9d8f0" stroke-width="0.800"/>
<path d="M1092.4,111.0 H1093.7 V112.0 H1095.5 V113.3 H1098.7 V115.8 H1098.8 V115.8 H1098.9 V116.0 H1101.2 V117.6 H1102.1 V118.3 H1106.0 V122.3 H1107.4 V127.1 H1108.7 V129.8 H1113.5 V136.0 H1114.1 V136.9 H1115.8 V139.7 H1116.1 V140.1 H1118.3 V141.2 H1120.8 V142.5 H1122.4 V143.5 H1122.5 V143.5 H1127.4 V146.6 H1129.3 V146.9 H1130.9 V147.2 H1131.8 V147.4 H1135.9 V148.2 H1136.8 V148.4 H1139.3 V149.0 H1139.6 V149.1 H1139.9 V149.2 H1143.0 V149.5 H1144.6 V149.6 H1146.7 V149.8 H1149.2 V150.2 H1149.6 V150.2 H1150.7 V150.4 H1150.8 V150.4 H1151.4 V150.5 H1152.7 V150.7 H1154.8 V151.0 H1154.9 V151.0 H1155.8 V151.0 H1156.2 V151.1 H1159.4 V151.2 H1159.4 V151.2 H1160.5 V151.3 H1163.6 V151.4 H1163.7 V151.4 H1164.1 V151.4 H1166.4 V151.4 H1168.1 V151.4 H1172.3 V151.5 H1172.3 V151.5 H1175.4 V151.5 H1175.9 V151.5 H1176.0 V151.5 H1177.6 V151.5 H1177.9 V151.5 H1178.3 V151.5 H1178.8 V151.5 H1179.0 V151.5 H1180.1 V151.5 H1180.1 V151.5 H1182.6 V151.5 H1182.7 V151.5 H1184.3 V151.5 H1185.1 V151.6 H1185.8 V151.6 H1188.7 V151.6 H1188.8 V151.6 H1191.2 V151.6 H1191.3 V151.6 H1191.8 V152.7 H1236.4 V152.7" fill="none" stroke="#4a90e2" stroke-width="1.200"/>
<path d="M1092.4,112.0 H1092.5 V112.1 H1092.6 V112.2 H1092.9 V112.5 H1093.1 V112.8 H1093.3 V113.0 H1093.6 V113.3 H1093.9 V113.7 H1094.8 V114.7 H1095.3 V115.3 H1095.8 V115.7 H1098.2 V121.7 H1098.9 V123.5 H1099.6 V125.0 H1099.9 V125.9 H1100.6 V127.7 H1101.0 V128.5 H1101.7 V130.4 H1103.0 V132.9 H1103.2 V133.4 H1103.5 V134.0 H1103.6 V134.1 H1105.1 V137.2 H1106.8 V139.3 H1107.3 V139.8 H1107.8 V140.3 H1108.0 V140.4 H1108.4 V140.9 H1108.7 V141.3 H1109.8 V143.4 H1111.0 V145.5 H1111.3 V146.0 H1116.4 V150.3 H1116.6 V150.4 H1117.2 V150.8 H1117.2 V150.8 H1120.2 V152.7 H1120.5 V152.9 H1122.0 V154.0 H1122.3 V154.2 H1123.5 V155.1 H1124.3 V155.6 H1124.5 V155.7 H1125.9 V156.3 H1127.4 V156.9 H1127.4 V156.9 H1128.0 V157.0 H1128.8 V157.1 H1130.6 V157.3 H1130.7 V157.3 H1131.1 V157.3 H1131.9 V157.4 H1133.0 V157.5 H1133.4 V157.5 H1133.5 V157.5 H1134.6 V157.6 H1136.0 V157.8 H1137.4 V157.9 H1137.4 V157.9 H1138.5 V158.0 H1138.9 V158.2 H1139.7 V158.6 H1140.0 V158.8 H1141.0 V159.4 H1141.0 V159.4 H1141.1 V159.5 H1141.7 V159.8 H1142.0 V160.0 H1142.3 V160.3 H1142.7 V160.7 H1143.1 V161.1 H1208.2 V161.1" fill="none" stroke="#e8333a" stroke-width="1.200"/>
<path d="M1196.0,152.900 v2 M1200.1,152.900 v2 M1204.2,152.900 v2 M1208.3,152.900 v2 M1212.4,152.900 v2 M1216.5,152.900 v2 M1220.6,152.900 v2 M1224.7,152.900 v2 M1228.8,152.900 v2 M1232.9,152.900 v2 M1150.0,150.500 v2 M1154.4,150.500 v2 M1158.8,150.500 v2 M1163.2,150.500 v2 M1167.6,150.500 v2 M1172.0,150.500 v2 M1176.4,150.500 v2 M1180.8,150.500 v2 M1185.2,150.500 v2 " stroke="#4a90e2" stroke-width="0.700"/>
<path d="M1147.0,161 v2 M1150.6,161 v2 M1154.2,161 v2 M1157.8,161 v2 M1161.4,161 v2 M1165.0,161 v2 M1168.6,161 v2 M1172.2,161 v2 M1175.8,161 v2 M1179.4,161 v2 M1183.0,161 v2 M1186.6,161 v2 M1190.2,161 v2 M1193.8,161 v2 M1197.4,161 v2 M1201.0,161 v2 M1204.6,161 v2 " stroke="#e8333a" stroke-width="0.700"/>
<text x="1090" y="109.3" font-size="3.600" fill="#666" text-anchor="end">1</text>
<text x="1090" y="126.4" font-size="3.600" fill="#666" text-anchor="end">0.75</text>
<text x="1090" y="143.6" font-size="3.600" fill="#666" text-anchor="end">0.5</text>
<text x="1090" y="160.7" font-size="3.600" fill="#666" text-anchor="end">0.25</text>
<text x="1090" y="177.8" font-size="3.600" fill="#666" text-anchor="end">0</text>
<text x="1092.4" y="182.300" font-size="3.600" fill="#666" text-anchor="middle">0</text>
<text x="1125.0" y="182.300" font-size="3.600" fill="#666" text-anchor="middle">2.5</text>
<text x="1157.6" y="182.300" font-size="3.600" fill="#666" text-anchor="middle">5</text>
<text x="1190.2" y="182.300" font-size="3.600" fill="#666" text-anchor="middle">7.5</text>
<text x="1222.8" y="182.300" font-size="3.600" fill="#666" text-anchor="middle">10</text>
<text transform="translate(1077.500,140.400) rotate(-90)" font-size="3.600" fill="#666" text-anchor="middle">Survival Probability</text>
<text x="1165" y="188.200" font-size="3.600" fill="#666" text-anchor="middle">survival time (years)</text>
<path d="M1085.300,198 h4.200" stroke="#e8333a" stroke-width="0.800"/><path d="M1159.500,198 h4.200" stroke="#4a90e2" stroke-width="0.800"/>
<text x="1090.700" y="199.300" font-size="3.900" class="b" fill="#333" textLength="62.700" lengthAdjust="spacingAndGlyphs">Methylation level &gt;= 0.831 (n=145)</text>
<text x="1165.700" y="199.300" font-size="3.900" class="b" fill="#333" textLength="59.300" lengthAdjust="spacingAndGlyphs">Methylation level &lt; 0.831 (n=144)</text>
<polygon points="631.800,258.600 655.200,215.400 705.100,215.400 728.500,258.600 705.100,302.100 655.200,302.100" fill="#f4a95e"/>
<path d="M664.7,231.8 L680.1,259.3 M680.1,259.3 L710.1,259 M680.1,259.3 L695.6,286.2 M710.1,259 L695.6,286.2 M664.7,286.2 L695.6,286.2 M664.7,286.2 L680.1,259.3" stroke="#fdebd0" stroke-width="2.500" fill="none"/>
<circle cx="664.7" cy="231.8" r="5.800" fill="#f4a95e" stroke="#fdebd0" stroke-width="2.300"/>
<circle cx="710.1" cy="259" r="5.800" fill="#f4a95e" stroke="#fdebd0" stroke-width="2.300"/>
<circle cx="664.7" cy="286.2" r="5.800" fill="#f4a95e" stroke="#fdebd0" stroke-width="2.300"/>
<circle cx="695.6" cy="286.2" r="5.800" fill="#f4a95e" stroke="#fdebd0" stroke-width="2.300"/>
<clipPath id="cc"><circle cx="680.100" cy="259.300" r="9.200"/></clipPath>
<g clip-path="url(#cc)"><rect x="670" y="249" width="5" height="21" fill="#fff4de"/><rect x="675" y="249" width="16" height="21" fill="#feeccb"/><rect x="674.300" y="249" width="1.200" height="21" fill="#fbd9ae"/></g>
<circle cx="695.600" cy="231.500" r="6.100" fill="#fff0cf"/>
<clipPath id="lc"><circle cx="650.200" cy="259" r="6"/></clipPath>
<g clip-path="url(#lc)"><rect x="640" y="250" width="20" height="20" fill="#fff"/><rect x="640" y="250" width="10" height="20" fill="url(#fun)"/></g>
<text y="264.400" class="b" font-size="20.300" fill="#f4a95e" xml:space="preserve"><tspan x="731">EWAS </tspan><tspan x="799.700">Open </tspan><tspan x="861.500">Platform</tspan></text>
<path d="M1069.500,255.500 L1058.200,271.800 L1067,287.600 L1095.400,287.800 L1095.400,292.300 L1106.700,281.700 L1094.600,271 L1094.600,275.500 L1073.600,275.300 L1082.500,261.500 Z" fill="#b8890b"/>
<path d="M1083.300,233.800 L1104.600,233.800 L1115.300,248.500 L1105,255 L1095.400,243.400 L1084.500,261 L1088.300,263 L1072.200,264.600 L1064.900,250.500 L1069.800,253.200 Z" fill="#4472c4"/>
<path d="M1108,247.800 L1124.400,249 L1119.800,251.500 L1131.500,270.400 L1120.900,287.800 L1091,289.500 L1100,277 L1115.200,274.800 L1104.800,260.300 L1100.300,262.600 Z" fill="#548f35"/>
<path d="M1094.600,271 L1106.700,281.700 L1095.400,292.300 Z" fill="#b8890b"/>
<text transform="translate(1059.300,254.100) rotate(-52.500)" class="b" font-size="10" fill="#4472c4" text-anchor="middle" textLength="77" lengthAdjust="spacing">EWAS Data hub</text>
<text transform="translate(1125,251) rotate(56)" class="b" font-size="10" fill="#548f35" text-anchor="middle" textLength="58" lengthAdjust="spacing">EWAS Atlas</text>
<text x="1062" y="301.800" class="b" font-size="10" fill="#b8890b" textLength="69.700" lengthAdjust="spacing">EWAS Toolkit</text>
<path d="M769.200,350.700 H1171.200 a6,6 0 0 1 6,6 V388 a6,6 0 0 1 -6,6 H769.200 a6,6 0 0 1 -6,-6 V385 L746,373.600 L763.200,362.500 V356.700 a6,6 0 0 1 6,-6 Z" fill="#cfcdcd"/>
<text y="375.300" class="b" font-size="14" fill="#2a52c4" xml:space="preserve"><tspan x="791">I’m </tspan><tspan x="814">your </tspan><tspan x="847.6">smart </tspan><tspan x="888.5">assistant</tspan><tspan x="951.2">! </tspan><tspan x="963.3">Ask </tspan><tspan x="992.3">me </tspan><tspan x="1015.8">anything </tspan><tspan x="1076.5">about </tspan><tspan x="1117.4">EWAS.</tspan></text>
<path d="M762.500,399 H1171.600 a18,18 0 0 1 18,18 V439 L1202.800,456 L1189.600,473 V500 a18,18 0 0 1 -18,18 H762.500 a18,18 0 0 1 -18,-18 V417 a18,18 0 0 1 18,-18 Z" fill="#cfcdcd"/>
<rect x="774.100" y="415" width="113" height="90" rx="13" fill="#fff"/>
<rect x="909.200" y="415" width="113" height="91" rx="13" fill="#fff"/>
<rect x="1049.200" y="415.800" width="113.300" height="90" rx="13" fill="#fff"/>
<text x="780.4" y="450.4" class="b" font-size="10.6" fill="#111">Find 2 genes from</text>
<text x="780.4" y="463.3" class="b" font-size="10.6" fill="#111">studies related to</text>
<text x="780.4" y="476.2" class="b" font-size="10.6" fill="#111">‘air pollution’.</text>
<text x="916.5" y="440.4" class="b" font-size="10.6" fill="#111">The methylation</text>
<text x="916.5" y="453.1" class="b" font-size="10.6" fill="#111">status of the GFI1</text>
<text x="916.5" y="465.8" class="b" font-size="10.6" fill="#111">gene can be a</text>
<text x="916.5" y="478.5" class="b" font-size="10.6" fill="#111">biomarker for which</text>
<text x="916.5" y="491.2" class="b" font-size="10.6" fill="#111">disease risks?</text>
<text x="1053.3" y="432.4" class="b" font-size="10.6" fill="#111">Regarding</text>
<text x="1053.3" y="445.3" class="b" font-size="10.6" fill="#111">Alzheimer’s disease,</text>
<text x="1053.3" y="458.1" class="b" font-size="10.6" fill="#111">which EWAS articles</text>
<text x="1053.3" y="471.0" class="b" font-size="10.6" fill="#111">have reported</text>
<text x="1053.3" y="483.8" class="b" font-size="10.6" fill="#111">specific methylation</text>
<text x="1053.3" y="496.7" class="b" font-size="10.6" fill="#111">changes?</text>
<ellipse cx="1215.800" cy="438.900" rx="5.900" ry="7.300" fill="#2652c6"/><path d="M1204,456.500 V452.500 a5.500,5.500 0 0 1 5.500,-5.500 H1222 V459.500 H1207 a3,3 0 0 1 -3,-3 Z" fill="#2652c6"/>
<rect x="1212.500" y="443" width="6.500" height="6" fill="#2652c6"/>
<ellipse cx="1229" cy="438.900" rx="9.300" ry="11" fill="#fff"/><path d="M1211.600,466 V455 a8.500,8.500 0 0 1 8.500,-8.500 H1238 V466 Z" fill="#fff"/>
<rect x="1225" y="444" width="8" height="6" fill="#2652c6"/>
<ellipse cx="1229" cy="438.700" rx="7.600" ry="9.300" fill="#2652c6"/><path d="M1213.400,460.500 V455 a6.600,6.600 0 0 1 6.600,-6.600 H1237.500 a6.600,6.600 0 0 1 6.600,6.600 V460.500 a3.200,3.200 0 0 1 -3.200,3.200 H1216.600 a3.200,3.200 0 0 1 -3.200,-3.200 Z" fill="#2652c6"/>
<path d="M720.700,356 V351.500" stroke="#c9dcf5" stroke-width="1"/><circle cx="720.700" cy="351.300" r="1" fill="#9cc0ef"/>
<path d="M699.500,368 L698.500,356 M742,368 L743,356" stroke="#dbe7f8" stroke-width="0.800"/>
<rect x="716.700" y="357.500" width="8" height="2.800" rx="1.200" fill="#2449c9"/>
<rect x="696.800" y="368.800" width="8" height="12" rx="4" fill="#2449c9"/><rect x="736.800" y="368.800" width="8" height="12" rx="4" fill="#2449c9"/>
<rect x="701.500" y="359.800" width="39" height="27" rx="12.500" fill="#eaf2fc"/>
<rect x="703" y="360.500" width="36" height="22" rx="11" fill="#f5f9ff"/>
<rect x="704.300" y="365" width="33" height="16.500" rx="8.200" fill="#2449c9"/>
<circle cx="713.400" cy="372" r="2.300" fill="#fff"/><circle cx="728" cy="372" r="2.300" fill="#fff"/><circle cx="713.400" cy="372" r="0.900" fill="#8fb2f0"/><circle cx="728" cy="372" r="0.900" fill="#8fb2f0"/>
<path d="M717.300,376.300 Q720.700,379.300 724.100,376.300" fill="none" stroke="#35d0b0" stroke-width="0.900" stroke-linecap="round"/>
<path d="M706.500,386.500 Q701,388.500 699,393.500 Q703,392.500 707,390.500 Z M735,386.500 Q740.500,388 743,390.500 Q739,391.500 735,390 Z" fill="#e3edfa"/>
<path d="M706,386 H736 Q737.500,398 731,402.500 Q721,405.500 711,402.500 Q704.500,398 706,386 Z" fill="#e6effb"/>
<path d="M708.500,387 H733.500 Q734,392 731,394 H711 Q708,392 708.500,387 Z" fill="#f4f8fe"/>
<rect x="718.500" y="391.700" width="4.500" height="1" rx="0.500" fill="#35d0a0"/>
<rect x="713" y="394.500" width="15.500" height="5" rx="2.500" fill="#f7fafe"/>
<text x="720.700" y="398.500" class="b" font-size="4.300" text-anchor="middle"><tspan fill="#4472c4">E</tspan><tspan fill="#e0a020">W</tspan><tspan fill="#58a040">A</tspan><tspan fill="#4472c4">S</tspan></text>
</svg></body></html>
